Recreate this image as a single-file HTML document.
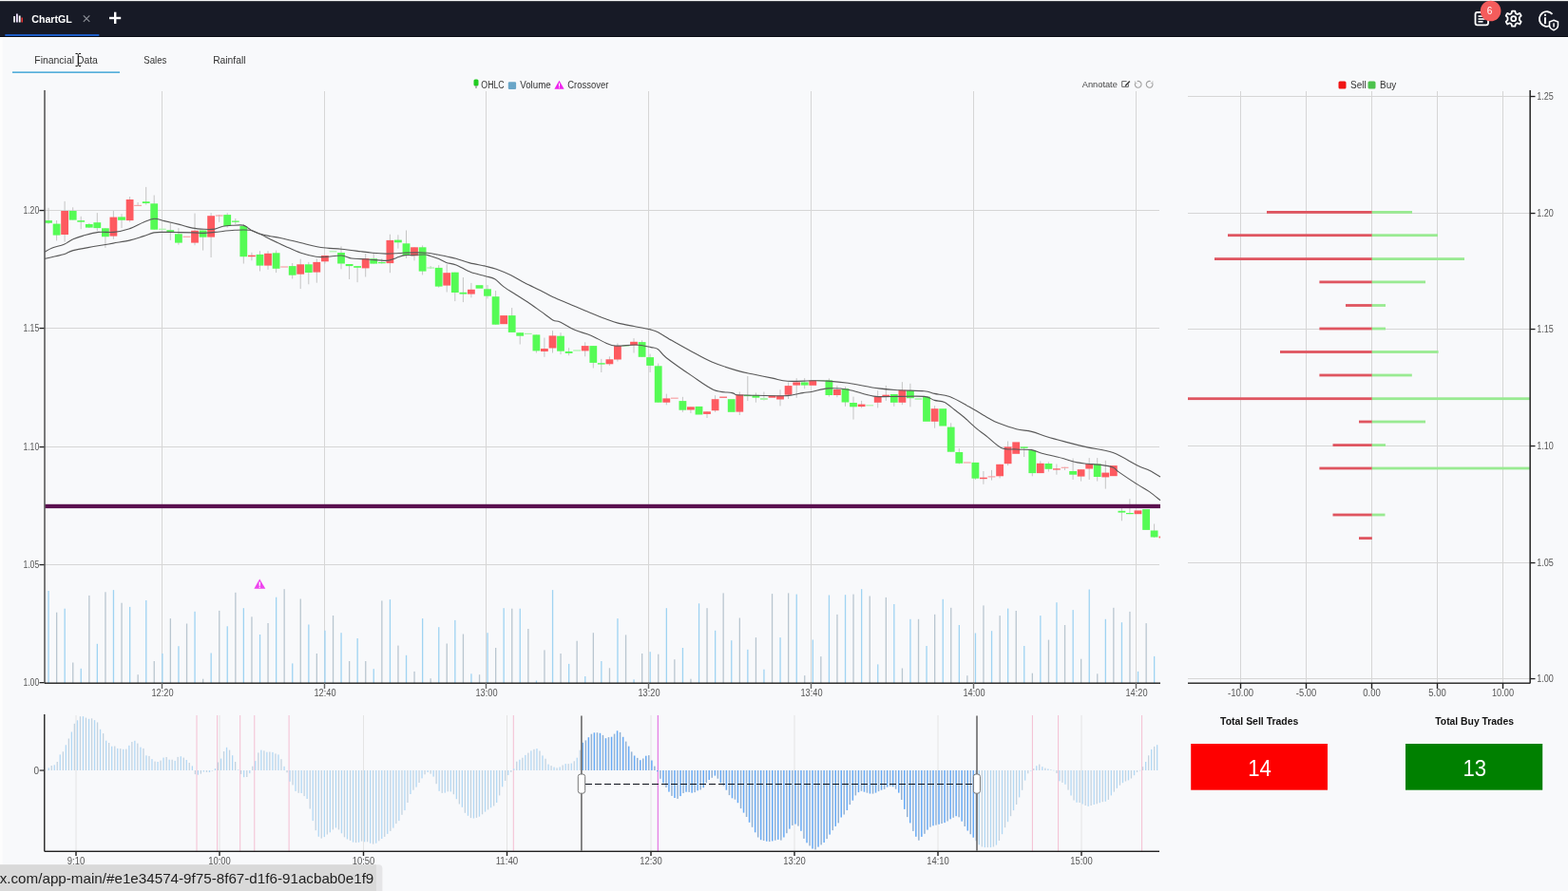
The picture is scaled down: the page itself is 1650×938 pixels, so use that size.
<!DOCTYPE html>
<html><head><meta charset="utf-8"><title>ChartGL</title>
<style>
*{box-sizing:border-box;margin:0;padding:0}
html,body{width:1650px;height:938px;overflow:hidden;background:#f8f9fb}
svg{position:absolute;left:0;top:0;display:block}
svg text{font-family:"Liberation Sans",Arial,sans-serif}
.ax{font-size:10px;fill:#555}
.lg{font-size:10px;fill:#333}
.an{font-size:9px;fill:#444}
.tt{font-size:11.5px;font-weight:bold;fill:#fff}
.tb{font-size:11px;fill:#333}
.tot{font-size:11px;font-weight:bold;fill:#111}
.big{font-size:23px;fill:#fff}
.st{font-size:15px;fill:#1e1e1e}
</style></head><body>
<svg width="1650" height="938" viewBox="0 0 1650 938">
<rect x="0" y="0" width="1650" height="1" fill="#f4f4f4"/>
<rect x="0" y="1" width="1650" height="1" fill="#3a3d44"/>
<rect x="0" y="2" width="1650" height="36" fill="#171a26"/>
<rect x="0" y="38" width="1650" height="1" fill="#0a0d16"/>
<rect x="0" y="39" width="1650" height="1" fill="#ffffff"/>
<rect x="0" y="40" width="1650" height="1" fill="#f4f8fb"/>
<rect x="0" y="41" width="2.7" height="870" fill="#fdfdfd"/>
<rect x="14.2" y="17" width="1.8" height="6.5" fill="#fff"/>
<rect x="17" y="14.5" width="1.8" height="9" fill="#f0e0ff"/>
<rect x="19.8" y="16.5" width="1.8" height="7" fill="#fff"/>
<rect x="22.4" y="18.5" width="1.6" height="5" fill="#e03030"/>
<text x="33.3" y="23.9" class="tt" textLength="42.4" lengthAdjust="spacingAndGlyphs">ChartGL</text>
<path d="M87.8 16.3 L94.3 22.8 M94.3 16.3 L87.8 22.8" stroke="#8a8e96" stroke-width="1.2"/>
<rect x="115" y="17.8" width="12.2" height="2.4" fill="#fff"/><rect x="120" y="12.7" width="2.4" height="12.3" fill="#fff"/>
<rect x="5.3" y="36" width="99" height="2" fill="#1d5cc4"/>
<rect x="1552.5" y="13" width="13.5" height="13.3" rx="2" fill="none" stroke="#fff" stroke-width="1.8"/>
<rect x="1555.5" y="16.3" width="6" height="1.6" fill="#fff"/><rect x="1555.5" y="19.2" width="7" height="1.6" fill="#fff"/><rect x="1555.5" y="22" width="5" height="1.6" fill="#fff"/>
<circle cx="1568.6" cy="11.5" r="10.8" fill="#f45c5c"/>
<text x="1567.6" y="15.3" fill="#fff" text-anchor="middle" style="font-size:10px">6</text>
<g transform="translate(1592.7,19.7)" fill="none" stroke="#fff" stroke-width="1.8"><path d="M-1.6,-8 L1.6,-8 L2.2,-5.6 L4.2,-4.6 L6.5,-5.8 L8,-3.2 L6.2,-1.4 L6.2,1.4 L8,3.2 L6.5,5.8 L4.2,4.6 L2.2,5.6 L1.6,8 L-1.6,8 L-2.2,5.6 L-4.2,4.6 L-6.5,5.8 L-8,3.2 L-6.2,1.4 L-6.2,-1.4 L-8,-3.2 L-6.5,-5.8 L-4.2,-4.6 L-2.2,-5.6 Z" stroke-linejoin="round"/><circle cx="0" cy="0" r="2.5"/></g>
<path d="M1631.5 26.8 A7.8 7.8 0 1 1 1633.5 14.8" fill="none" stroke="#fff" stroke-width="1.8"/>
<rect x="1625" y="18.3" width="2" height="6.8" fill="#fff"/><rect x="1625" y="14.8" width="2" height="2" fill="#fff"/>
<path d="M1635 21.3 l4.5 1.8 v3.5 c0 2.6 -2 4.3 -4.5 5.2 c-2.5 -0.9 -4.5 -2.6 -4.5 -5.2 v-3.5 z" fill="#171a26" stroke="#fff" stroke-width="1.5"/>
<rect x="1634.3" y="24.3" width="1.5" height="4.2" fill="#fff"/>
<text x="36.3" y="66.8" class="tb" textLength="66.6" lengthAdjust="spacingAndGlyphs">Financial Data</text>
<text x="151.3" y="66.8" class="tb" textLength="24" lengthAdjust="spacingAndGlyphs">Sales</text>
<text x="224.2" y="66.8" class="tb" textLength="34.3" lengthAdjust="spacingAndGlyphs">Rainfall</text>
<rect x="13" y="75.4" width="113" height="1.5" fill="#45a7d8"/>
<text x="1325.2" y="763.4" class="tot" textLength="82.2" lengthAdjust="spacingAndGlyphs" text-anchor="middle">Total Sell Trades</text>
<text x="1551.6" y="763.4" class="tot" textLength="82.6" lengthAdjust="spacingAndGlyphs" text-anchor="middle">Total Buy Trades</text>
<line x1="170.5" y1="96" x2="170.5" y2="719" stroke="#d6d6d6" stroke-width="1"/>
<line x1="341.5" y1="96" x2="341.5" y2="719" stroke="#d6d6d6" stroke-width="1"/>
<line x1="511.5" y1="96" x2="511.5" y2="719" stroke="#d6d6d6" stroke-width="1"/>
<line x1="682.5" y1="96" x2="682.5" y2="719" stroke="#d6d6d6" stroke-width="1"/>
<line x1="853.5" y1="96" x2="853.5" y2="719" stroke="#d6d6d6" stroke-width="1"/>
<line x1="1024.5" y1="96" x2="1024.5" y2="719" stroke="#d6d6d6" stroke-width="1"/>
<line x1="1195.5" y1="96" x2="1195.5" y2="719" stroke="#d6d6d6" stroke-width="1"/>
<line x1="47" y1="221.5" x2="1220" y2="221.5" stroke="#d6d6d6" stroke-width="1"/>
<line x1="47" y1="345.5" x2="1220" y2="345.5" stroke="#d6d6d6" stroke-width="1"/>
<line x1="47" y1="470.5" x2="1220" y2="470.5" stroke="#d6d6d6" stroke-width="1"/>
<line x1="47" y1="594.5" x2="1220" y2="594.5" stroke="#d6d6d6" stroke-width="1"/>
<rect x="50.4" y="622" width="1.3" height="97" fill="#9fd3f2"/>
<rect x="59" y="644.7" width="1.3" height="74.3" fill="#b9c6d0"/>
<rect x="67.5" y="640.7" width="1.3" height="78.3" fill="#9fd3f2"/>
<rect x="76.1" y="697.5" width="1.3" height="21.5" fill="#b9c6d0"/>
<rect x="84.6" y="703.8" width="1.3" height="15.2" fill="#9fd3f2"/>
<rect x="93.2" y="626.9" width="1.3" height="92.1" fill="#b9c6d0"/>
<rect x="101.7" y="677.8" width="1.3" height="41.2" fill="#9fd3f2"/>
<rect x="110.3" y="623.3" width="1.3" height="95.7" fill="#b9c6d0"/>
<rect x="118.8" y="621.1" width="1.3" height="97.9" fill="#9fd3f2"/>
<rect x="127.4" y="634.7" width="1.3" height="84.3" fill="#b9c6d0"/>
<rect x="136" y="638.9" width="1.3" height="80.1" fill="#9fd3f2"/>
<rect x="144.5" y="710.2" width="1.3" height="8.8" fill="#b9c6d0"/>
<rect x="153.1" y="632" width="1.3" height="87" fill="#9fd3f2"/>
<rect x="161.6" y="696" width="1.3" height="23" fill="#b9c6d0"/>
<rect x="170.2" y="688" width="1.3" height="31" fill="#9fd3f2"/>
<rect x="178.7" y="651.1" width="1.3" height="67.9" fill="#b9c6d0"/>
<rect x="187.3" y="680.2" width="1.3" height="38.8" fill="#9fd3f2"/>
<rect x="195.9" y="656.5" width="1.3" height="62.5" fill="#b9c6d0"/>
<rect x="204.4" y="643.8" width="1.3" height="75.2" fill="#9fd3f2"/>
<rect x="213" y="714.7" width="1.3" height="4.3" fill="#b9c6d0"/>
<rect x="221.5" y="687.5" width="1.3" height="31.5" fill="#9fd3f2"/>
<rect x="230.1" y="642.9" width="1.3" height="76.1" fill="#b9c6d0"/>
<rect x="238.6" y="659.3" width="1.3" height="59.7" fill="#9fd3f2"/>
<rect x="247.2" y="623.8" width="1.3" height="95.2" fill="#b9c6d0"/>
<rect x="255.7" y="640.2" width="1.3" height="78.8" fill="#9fd3f2"/>
<rect x="264.3" y="649.3" width="1.3" height="69.7" fill="#b9c6d0"/>
<rect x="272.9" y="668" width="1.3" height="51" fill="#9fd3f2"/>
<rect x="281.4" y="656" width="1.3" height="63" fill="#b9c6d0"/>
<rect x="290" y="628.7" width="1.3" height="90.3" fill="#9fd3f2"/>
<rect x="298.5" y="620.2" width="1.3" height="98.8" fill="#b9c6d0"/>
<rect x="307.1" y="698.4" width="1.3" height="20.6" fill="#9fd3f2"/>
<rect x="315.6" y="630.5" width="1.3" height="88.5" fill="#b9c6d0"/>
<rect x="324.2" y="657.5" width="1.3" height="61.5" fill="#9fd3f2"/>
<rect x="332.7" y="688" width="1.3" height="31" fill="#b9c6d0"/>
<rect x="341.3" y="663.8" width="1.3" height="55.2" fill="#9fd3f2"/>
<rect x="349.9" y="648" width="1.3" height="71" fill="#b9c6d0"/>
<rect x="358.4" y="666.2" width="1.3" height="52.8" fill="#9fd3f2"/>
<rect x="367" y="696" width="1.3" height="23" fill="#b9c6d0"/>
<rect x="375.5" y="672" width="1.3" height="47" fill="#9fd3f2"/>
<rect x="384.1" y="696" width="1.3" height="23" fill="#b9c6d0"/>
<rect x="392.6" y="704.2" width="1.3" height="14.8" fill="#9fd3f2"/>
<rect x="401.2" y="632.4" width="1.3" height="86.6" fill="#b9c6d0"/>
<rect x="409.8" y="631.1" width="1.3" height="87.9" fill="#9fd3f2"/>
<rect x="418.3" y="679.6" width="1.3" height="39.4" fill="#b9c6d0"/>
<rect x="426.9" y="689.8" width="1.3" height="29.2" fill="#9fd3f2"/>
<rect x="435.4" y="706.9" width="1.3" height="12.1" fill="#b9c6d0"/>
<rect x="444" y="651.1" width="1.3" height="67.9" fill="#9fd3f2"/>
<rect x="452.5" y="714.2" width="1.3" height="4.8" fill="#b9c6d0"/>
<rect x="461.1" y="660.2" width="1.3" height="58.8" fill="#9fd3f2"/>
<rect x="469.6" y="677.5" width="1.3" height="41.5" fill="#b9c6d0"/>
<rect x="478.2" y="652.9" width="1.3" height="66.1" fill="#9fd3f2"/>
<rect x="486.8" y="667.5" width="1.3" height="51.5" fill="#b9c6d0"/>
<rect x="495.3" y="709.3" width="1.3" height="9.7" fill="#9fd3f2"/>
<rect x="503.9" y="710.2" width="1.3" height="8.8" fill="#b9c6d0"/>
<rect x="512.4" y="666.2" width="1.3" height="52.8" fill="#9fd3f2"/>
<rect x="521" y="682" width="1.3" height="37" fill="#b9c6d0"/>
<rect x="529.5" y="640.2" width="1.3" height="78.8" fill="#9fd3f2"/>
<rect x="538.1" y="640.7" width="1.3" height="78.3" fill="#b9c6d0"/>
<rect x="546.6" y="640.7" width="1.3" height="78.3" fill="#9fd3f2"/>
<rect x="555.2" y="662" width="1.3" height="57" fill="#b9c6d0"/>
<rect x="563.8" y="716.5" width="1.3" height="2.5" fill="#9fd3f2"/>
<rect x="572.3" y="684.4" width="1.3" height="34.6" fill="#b9c6d0"/>
<rect x="580.9" y="621.1" width="1.3" height="97.9" fill="#9fd3f2"/>
<rect x="589.4" y="688" width="1.3" height="31" fill="#b9c6d0"/>
<rect x="598" y="698.9" width="1.3" height="20.1" fill="#9fd3f2"/>
<rect x="606.5" y="674.7" width="1.3" height="44.3" fill="#b9c6d0"/>
<rect x="615.1" y="712" width="1.3" height="7" fill="#9fd3f2"/>
<rect x="623.7" y="666.2" width="1.3" height="52.8" fill="#b9c6d0"/>
<rect x="632.2" y="696" width="1.3" height="23" fill="#9fd3f2"/>
<rect x="640.8" y="703.3" width="1.3" height="15.7" fill="#b9c6d0"/>
<rect x="649.3" y="651.1" width="1.3" height="67.9" fill="#9fd3f2"/>
<rect x="657.9" y="668.4" width="1.3" height="50.6" fill="#b9c6d0"/>
<rect x="666.4" y="715.3" width="1.3" height="3.7" fill="#9fd3f2"/>
<rect x="675" y="688" width="1.3" height="31" fill="#b9c6d0"/>
<rect x="683.5" y="686.2" width="1.3" height="32.8" fill="#9fd3f2"/>
<rect x="692.1" y="688.7" width="1.3" height="30.3" fill="#b9c6d0"/>
<rect x="700.7" y="640.2" width="1.3" height="78.8" fill="#9fd3f2"/>
<rect x="709.2" y="694.2" width="1.3" height="24.8" fill="#b9c6d0"/>
<rect x="717.8" y="682" width="1.3" height="37" fill="#9fd3f2"/>
<rect x="726.3" y="714.7" width="1.3" height="4.3" fill="#b9c6d0"/>
<rect x="734.9" y="635.3" width="1.3" height="83.7" fill="#9fd3f2"/>
<rect x="743.4" y="640.2" width="1.3" height="78.8" fill="#b9c6d0"/>
<rect x="752" y="663.8" width="1.3" height="55.2" fill="#9fd3f2"/>
<rect x="760.5" y="624.4" width="1.3" height="94.6" fill="#b9c6d0"/>
<rect x="769.1" y="674.2" width="1.3" height="44.8" fill="#9fd3f2"/>
<rect x="777.7" y="650.5" width="1.3" height="68.5" fill="#b9c6d0"/>
<rect x="786.2" y="683.8" width="1.3" height="35.2" fill="#9fd3f2"/>
<rect x="794.8" y="671.1" width="1.3" height="47.9" fill="#b9c6d0"/>
<rect x="803.3" y="704.7" width="1.3" height="14.3" fill="#9fd3f2"/>
<rect x="811.9" y="625.1" width="1.3" height="93.9" fill="#b9c6d0"/>
<rect x="820.4" y="671.1" width="1.3" height="47.9" fill="#9fd3f2"/>
<rect x="829" y="624.4" width="1.3" height="94.6" fill="#b9c6d0"/>
<rect x="837.6" y="625.6" width="1.3" height="93.4" fill="#9fd3f2"/>
<rect x="846.1" y="711.1" width="1.3" height="7.9" fill="#b9c6d0"/>
<rect x="854.7" y="673.5" width="1.3" height="45.5" fill="#9fd3f2"/>
<rect x="863.2" y="691.1" width="1.3" height="27.9" fill="#b9c6d0"/>
<rect x="871.8" y="626.5" width="1.3" height="92.5" fill="#9fd3f2"/>
<rect x="880.3" y="646.9" width="1.3" height="72.1" fill="#b9c6d0"/>
<rect x="888.9" y="626.2" width="1.3" height="92.8" fill="#9fd3f2"/>
<rect x="897.4" y="625.6" width="1.3" height="93.4" fill="#b9c6d0"/>
<rect x="906" y="620.2" width="1.3" height="98.8" fill="#9fd3f2"/>
<rect x="914.6" y="627.5" width="1.3" height="91.5" fill="#b9c6d0"/>
<rect x="923.1" y="699.4" width="1.3" height="19.6" fill="#9fd3f2"/>
<rect x="931.7" y="628.9" width="1.3" height="90.1" fill="#b9c6d0"/>
<rect x="940.2" y="636" width="1.3" height="83" fill="#9fd3f2"/>
<rect x="948.8" y="703.5" width="1.3" height="15.5" fill="#b9c6d0"/>
<rect x="957.3" y="651.8" width="1.3" height="67.2" fill="#9fd3f2"/>
<rect x="965.9" y="651.8" width="1.3" height="67.2" fill="#b9c6d0"/>
<rect x="974.4" y="680" width="1.3" height="39" fill="#9fd3f2"/>
<rect x="983" y="646.8" width="1.3" height="72.2" fill="#b9c6d0"/>
<rect x="991.6" y="630.8" width="1.3" height="88.2" fill="#9fd3f2"/>
<rect x="1000.1" y="639.8" width="1.3" height="79.2" fill="#b9c6d0"/>
<rect x="1008.7" y="658" width="1.3" height="61" fill="#9fd3f2"/>
<rect x="1017.2" y="711.2" width="1.3" height="7.8" fill="#b9c6d0"/>
<rect x="1025.8" y="666.5" width="1.3" height="52.5" fill="#9fd3f2"/>
<rect x="1034.3" y="637.4" width="1.3" height="81.6" fill="#b9c6d0"/>
<rect x="1042.9" y="664.2" width="1.3" height="54.8" fill="#9fd3f2"/>
<rect x="1051.5" y="648.1" width="1.3" height="70.9" fill="#b9c6d0"/>
<rect x="1060" y="640.6" width="1.3" height="78.4" fill="#9fd3f2"/>
<rect x="1068.6" y="643" width="1.3" height="76" fill="#b9c6d0"/>
<rect x="1077.1" y="680" width="1.3" height="39" fill="#9fd3f2"/>
<rect x="1085.7" y="708.7" width="1.3" height="10.3" fill="#b9c6d0"/>
<rect x="1094.2" y="648.1" width="1.3" height="70.9" fill="#9fd3f2"/>
<rect x="1102.8" y="673.6" width="1.3" height="45.4" fill="#b9c6d0"/>
<rect x="1111.3" y="634.2" width="1.3" height="84.8" fill="#9fd3f2"/>
<rect x="1119.9" y="658" width="1.3" height="61" fill="#b9c6d0"/>
<rect x="1128.5" y="642.1" width="1.3" height="76.9" fill="#9fd3f2"/>
<rect x="1137" y="693.7" width="1.3" height="25.3" fill="#b9c6d0"/>
<rect x="1145.6" y="620.5" width="1.3" height="98.5" fill="#9fd3f2"/>
<rect x="1154.1" y="709.3" width="1.3" height="9.7" fill="#b9c6d0"/>
<rect x="1162.7" y="651.8" width="1.3" height="67.2" fill="#9fd3f2"/>
<rect x="1171.2" y="639.8" width="1.3" height="79.2" fill="#b9c6d0"/>
<rect x="1179.8" y="655.2" width="1.3" height="63.8" fill="#9fd3f2"/>
<rect x="1188.3" y="643.9" width="1.3" height="75.1" fill="#b9c6d0"/>
<rect x="1196.9" y="706.9" width="1.3" height="12.1" fill="#9fd3f2"/>
<rect x="1205.5" y="656.1" width="1.3" height="62.9" fill="#b9c6d0"/>
<rect x="1214" y="690.9" width="1.3" height="28.1" fill="#9fd3f2"/>
<path d="M273.2 609.6 L279.3 619.8 L267.4 619.8 Z" fill="#ee44ee"/>
<rect x="272.6" y="612.6" width="1.3" height="4.2" fill="#fff"/><rect x="272.6" y="617.6" width="1.3" height="1.2" fill="#fff"/>
<line x1="51" y1="218.8" x2="51" y2="235.8" stroke="#c4c4c4" stroke-width="1"/>
<line x1="59.6" y1="232" x2="59.6" y2="253.4" stroke="#c4c4c4" stroke-width="1"/>
<line x1="68.1" y1="211.9" x2="68.1" y2="254.5" stroke="#c4c4c4" stroke-width="1"/>
<line x1="76.7" y1="218.3" x2="76.7" y2="231.6" stroke="#c4c4c4" stroke-width="1"/>
<line x1="85.2" y1="227.8" x2="85.2" y2="241.2" stroke="#c4c4c4" stroke-width="1"/>
<line x1="93.8" y1="235" x2="93.8" y2="240" stroke="#c4c4c4" stroke-width="1"/>
<line x1="102.3" y1="224.1" x2="102.3" y2="243.3" stroke="#c4c4c4" stroke-width="1"/>
<line x1="110.9" y1="240.3" x2="110.9" y2="260.9" stroke="#c4c4c4" stroke-width="1"/>
<line x1="119.4" y1="222" x2="119.4" y2="251.8" stroke="#c4c4c4" stroke-width="1"/>
<line x1="128" y1="225.2" x2="128" y2="240.1" stroke="#c4c4c4" stroke-width="1"/>
<line x1="136.6" y1="207" x2="136.6" y2="233.7" stroke="#c4c4c4" stroke-width="1"/>
<line x1="145.1" y1="213" x2="145.1" y2="216.8" stroke="#c4c4c4" stroke-width="1"/>
<line x1="153.7" y1="196.9" x2="153.7" y2="215.6" stroke="#c4c4c4" stroke-width="1"/>
<line x1="162.2" y1="205.5" x2="162.2" y2="241.7" stroke="#c4c4c4" stroke-width="1"/>
<line x1="179.3" y1="234.8" x2="179.3" y2="252.9" stroke="#c4c4c4" stroke-width="1"/>
<line x1="187.9" y1="240.1" x2="187.9" y2="257.7" stroke="#c4c4c4" stroke-width="1"/>
<line x1="205" y1="224.6" x2="205" y2="258.2" stroke="#c4c4c4" stroke-width="1"/>
<line x1="213.6" y1="242.5" x2="213.6" y2="263.6" stroke="#c4c4c4" stroke-width="1"/>
<line x1="222.1" y1="224.2" x2="222.1" y2="271" stroke="#c4c4c4" stroke-width="1"/>
<line x1="230.7" y1="226" x2="230.7" y2="233.8" stroke="#c4c4c4" stroke-width="1"/>
<line x1="239.2" y1="224.2" x2="239.2" y2="239.6" stroke="#c4c4c4" stroke-width="1"/>
<line x1="247.8" y1="230" x2="247.8" y2="236" stroke="#c4c4c4" stroke-width="1"/>
<line x1="256.3" y1="235.9" x2="256.3" y2="277.5" stroke="#c4c4c4" stroke-width="1"/>
<line x1="264.9" y1="265.8" x2="264.9" y2="274.3" stroke="#c4c4c4" stroke-width="1"/>
<line x1="273.5" y1="264.2" x2="273.5" y2="285.5" stroke="#c4c4c4" stroke-width="1"/>
<line x1="282" y1="264.2" x2="282" y2="283.9" stroke="#c4c4c4" stroke-width="1"/>
<line x1="290.6" y1="263.6" x2="290.6" y2="287.1" stroke="#c4c4c4" stroke-width="1"/>
<line x1="307.7" y1="277" x2="307.7" y2="293.5" stroke="#c4c4c4" stroke-width="1"/>
<line x1="316.2" y1="272.7" x2="316.2" y2="304.1" stroke="#c4c4c4" stroke-width="1"/>
<line x1="324.8" y1="275.9" x2="324.8" y2="299.3" stroke="#c4c4c4" stroke-width="1"/>
<line x1="333.3" y1="272.2" x2="333.3" y2="297.7" stroke="#c4c4c4" stroke-width="1"/>
<line x1="341.9" y1="269" x2="341.9" y2="277.5" stroke="#c4c4c4" stroke-width="1"/>
<line x1="359" y1="259.4" x2="359" y2="283.3" stroke="#c4c4c4" stroke-width="1"/>
<line x1="367.6" y1="278" x2="367.6" y2="294" stroke="#c4c4c4" stroke-width="1"/>
<line x1="376.1" y1="280.1" x2="376.1" y2="297.2" stroke="#c4c4c4" stroke-width="1"/>
<line x1="384.7" y1="267" x2="384.7" y2="291.5" stroke="#c4c4c4" stroke-width="1"/>
<line x1="393.2" y1="265.9" x2="393.2" y2="277.6" stroke="#c4c4c4" stroke-width="1"/>
<line x1="401.8" y1="272.3" x2="401.8" y2="277.6" stroke="#c4c4c4" stroke-width="1"/>
<line x1="410.4" y1="246.7" x2="410.4" y2="287.2" stroke="#c4c4c4" stroke-width="1"/>
<line x1="418.9" y1="247.3" x2="418.9" y2="261.6" stroke="#c4c4c4" stroke-width="1"/>
<line x1="427.5" y1="242.5" x2="427.5" y2="271.8" stroke="#c4c4c4" stroke-width="1"/>
<line x1="436" y1="260.3" x2="436" y2="274.4" stroke="#c4c4c4" stroke-width="1"/>
<line x1="444.6" y1="258.4" x2="444.6" y2="289.4" stroke="#c4c4c4" stroke-width="1"/>
<line x1="453.1" y1="280" x2="453.1" y2="283" stroke="#c4c4c4" stroke-width="1"/>
<line x1="461.7" y1="279.2" x2="461.7" y2="302.7" stroke="#c4c4c4" stroke-width="1"/>
<line x1="470.2" y1="278.2" x2="470.2" y2="307.5" stroke="#c4c4c4" stroke-width="1"/>
<line x1="478.8" y1="286.7" x2="478.8" y2="317.1" stroke="#c4c4c4" stroke-width="1"/>
<line x1="487.4" y1="292" x2="487.4" y2="318.1" stroke="#c4c4c4" stroke-width="1"/>
<line x1="495.9" y1="297.9" x2="495.9" y2="313.3" stroke="#c4c4c4" stroke-width="1"/>
<line x1="513" y1="300" x2="513" y2="314.4" stroke="#c4c4c4" stroke-width="1"/>
<line x1="521.6" y1="306" x2="521.6" y2="341.7" stroke="#c4c4c4" stroke-width="1"/>
<line x1="538.7" y1="324.1" x2="538.7" y2="349.9" stroke="#c4c4c4" stroke-width="1"/>
<line x1="547.2" y1="350.2" x2="547.2" y2="362.5" stroke="#c4c4c4" stroke-width="1"/>
<line x1="564.4" y1="352.4" x2="564.4" y2="371.5" stroke="#c4c4c4" stroke-width="1"/>
<line x1="572.9" y1="355.5" x2="572.9" y2="375.8" stroke="#c4c4c4" stroke-width="1"/>
<line x1="581.5" y1="348.1" x2="581.5" y2="371.5" stroke="#c4c4c4" stroke-width="1"/>
<line x1="590" y1="350.2" x2="590" y2="373.1" stroke="#c4c4c4" stroke-width="1"/>
<line x1="598.6" y1="366.2" x2="598.6" y2="374.2" stroke="#c4c4c4" stroke-width="1"/>
<line x1="615.7" y1="360.3" x2="615.7" y2="375.3" stroke="#c4c4c4" stroke-width="1"/>
<line x1="624.3" y1="364.1" x2="624.3" y2="387.5" stroke="#c4c4c4" stroke-width="1"/>
<line x1="632.8" y1="377.9" x2="632.8" y2="392" stroke="#c4c4c4" stroke-width="1"/>
<line x1="641.4" y1="375.3" x2="641.4" y2="384.9" stroke="#c4c4c4" stroke-width="1"/>
<line x1="649.9" y1="361.4" x2="649.9" y2="380.6" stroke="#c4c4c4" stroke-width="1"/>
<line x1="667" y1="356.1" x2="667" y2="371.5" stroke="#c4c4c4" stroke-width="1"/>
<line x1="675.6" y1="358.2" x2="675.6" y2="375.8" stroke="#c4c4c4" stroke-width="1"/>
<line x1="684.1" y1="372.6" x2="684.1" y2="392" stroke="#c4c4c4" stroke-width="1"/>
<line x1="692.7" y1="382.6" x2="692.7" y2="423.7" stroke="#c4c4c4" stroke-width="1"/>
<line x1="701.3" y1="414.6" x2="701.3" y2="426.3" stroke="#c4c4c4" stroke-width="1"/>
<line x1="718.4" y1="417.8" x2="718.4" y2="433.8" stroke="#c4c4c4" stroke-width="1"/>
<line x1="726.9" y1="428.3" x2="726.9" y2="434.9" stroke="#c4c4c4" stroke-width="1"/>
<line x1="744" y1="433.3" x2="744" y2="440" stroke="#c4c4c4" stroke-width="1"/>
<line x1="752.6" y1="416.2" x2="752.6" y2="433.8" stroke="#c4c4c4" stroke-width="1"/>
<line x1="778.3" y1="412.5" x2="778.3" y2="437" stroke="#c4c4c4" stroke-width="1"/>
<line x1="786.8" y1="396" x2="786.8" y2="422.1" stroke="#c4c4c4" stroke-width="1"/>
<line x1="795.4" y1="413.5" x2="795.4" y2="423.7" stroke="#c4c4c4" stroke-width="1"/>
<line x1="803.9" y1="412.5" x2="803.9" y2="421.5" stroke="#c4c4c4" stroke-width="1"/>
<line x1="821" y1="410.3" x2="821" y2="427.4" stroke="#c4c4c4" stroke-width="1"/>
<line x1="829.6" y1="402.4" x2="829.6" y2="420" stroke="#c4c4c4" stroke-width="1"/>
<line x1="838.2" y1="398.1" x2="838.2" y2="418.9" stroke="#c4c4c4" stroke-width="1"/>
<line x1="846.7" y1="398.1" x2="846.7" y2="409.3" stroke="#c4c4c4" stroke-width="1"/>
<line x1="872.4" y1="398.4" x2="872.4" y2="417.6" stroke="#c4c4c4" stroke-width="1"/>
<line x1="880.9" y1="405.9" x2="880.9" y2="418.2" stroke="#c4c4c4" stroke-width="1"/>
<line x1="889.5" y1="407" x2="889.5" y2="427.8" stroke="#c4c4c4" stroke-width="1"/>
<line x1="898" y1="417.6" x2="898" y2="441.6" stroke="#c4c4c4" stroke-width="1"/>
<line x1="906.6" y1="421.9" x2="906.6" y2="429.4" stroke="#c4c4c4" stroke-width="1"/>
<line x1="923.7" y1="411.2" x2="923.7" y2="429.4" stroke="#c4c4c4" stroke-width="1"/>
<line x1="932.3" y1="405.9" x2="932.3" y2="421.9" stroke="#c4c4c4" stroke-width="1"/>
<line x1="940.8" y1="415" x2="940.8" y2="427.8" stroke="#c4c4c4" stroke-width="1"/>
<line x1="949.4" y1="402.2" x2="949.4" y2="426.2" stroke="#c4c4c4" stroke-width="1"/>
<line x1="957.9" y1="403.8" x2="957.9" y2="428.3" stroke="#c4c4c4" stroke-width="1"/>
<line x1="983.6" y1="427.2" x2="983.6" y2="450.7" stroke="#c4c4c4" stroke-width="1"/>
<line x1="1000.7" y1="445.3" x2="1000.7" y2="475.7" stroke="#c4c4c4" stroke-width="1"/>
<line x1="1009.3" y1="472" x2="1009.3" y2="488.5" stroke="#c4c4c4" stroke-width="1"/>
<line x1="1026.4" y1="486.9" x2="1026.4" y2="505" stroke="#c4c4c4" stroke-width="1"/>
<line x1="1034.9" y1="496" x2="1034.9" y2="509.8" stroke="#c4c4c4" stroke-width="1"/>
<line x1="1043.5" y1="494.9" x2="1043.5" y2="505.6" stroke="#c4c4c4" stroke-width="1"/>
<line x1="1052.1" y1="488.8" x2="1052.1" y2="503.4" stroke="#c4c4c4" stroke-width="1"/>
<line x1="1060.6" y1="464.5" x2="1060.6" y2="490.1" stroke="#c4c4c4" stroke-width="1"/>
<line x1="1077.7" y1="470.4" x2="1077.7" y2="481" stroke="#c4c4c4" stroke-width="1"/>
<line x1="1086.3" y1="474.1" x2="1086.3" y2="501.3" stroke="#c4c4c4" stroke-width="1"/>
<line x1="1094.8" y1="485.3" x2="1094.8" y2="498.1" stroke="#c4c4c4" stroke-width="1"/>
<line x1="1103.4" y1="486.4" x2="1103.4" y2="496.5" stroke="#c4c4c4" stroke-width="1"/>
<line x1="1111.9" y1="488.5" x2="1111.9" y2="499.7" stroke="#c4c4c4" stroke-width="1"/>
<line x1="1120.5" y1="491.7" x2="1120.5" y2="495" stroke="#c4c4c4" stroke-width="1"/>
<line x1="1129.1" y1="482.6" x2="1129.1" y2="505" stroke="#c4c4c4" stroke-width="1"/>
<line x1="1137.6" y1="494.2" x2="1137.6" y2="506.6" stroke="#c4c4c4" stroke-width="1"/>
<line x1="1146.2" y1="482.1" x2="1146.2" y2="505" stroke="#c4c4c4" stroke-width="1"/>
<line x1="1154.7" y1="482.1" x2="1154.7" y2="506.6" stroke="#c4c4c4" stroke-width="1"/>
<line x1="1163.3" y1="484.8" x2="1163.3" y2="514.6" stroke="#c4c4c4" stroke-width="1"/>
<line x1="1180.4" y1="534.2" x2="1180.4" y2="548.3" stroke="#c4c4c4" stroke-width="1"/>
<line x1="1188.9" y1="525.2" x2="1188.9" y2="541.2" stroke="#c4c4c4" stroke-width="1"/>
<line x1="1214.6" y1="551.5" x2="1214.6" y2="566" stroke="#c4c4c4" stroke-width="1"/>
<rect x="47.1" y="232.1" width="7.8" height="2.7" fill="#55fb55"/>
<rect x="55.7" y="235.6" width="7.8" height="12" fill="#55fb55"/>
<rect x="64.2" y="222" width="7.8" height="25" fill="#fe5a60"/>
<rect x="72.8" y="222" width="7.8" height="9.6" fill="#55fb55"/>
<rect x="81.3" y="232.1" width="7.8" height="1.6" fill="#55fb55"/>
<rect x="89.9" y="236" width="7.8" height="3.6" fill="#55fb55"/>
<rect x="98.4" y="234.2" width="7.8" height="5.9" fill="#55fb55"/>
<rect x="107" y="240.3" width="7.8" height="8.9" fill="#55fb55"/>
<rect x="115.5" y="228.6" width="7.8" height="20" fill="#fe5a60"/>
<rect x="124.1" y="228.4" width="7.8" height="3.4" fill="#55fb55"/>
<rect x="132.7" y="210" width="7.8" height="22.1" fill="#fe5a60"/>
<rect x="141.2" y="215.8" width="7.8" height="1.2" fill="#f7a3a6"/>
<rect x="149.8" y="212.2" width="7.8" height="1.8" fill="#55fb55"/>
<rect x="158.3" y="214.3" width="7.8" height="27.4" fill="#55fb55"/>
<rect x="166.9" y="240.7" width="7.8" height="1.2" fill="#a8f5a8"/>
<rect x="175.4" y="242.2" width="7.8" height="2.7" fill="#55fb55"/>
<rect x="184" y="246.3" width="7.8" height="9.3" fill="#55fb55"/>
<rect x="192.6" y="248.7" width="7.8" height="1.2" fill="#f7a3a6"/>
<rect x="201.1" y="242.8" width="7.8" height="12.8" fill="#fe5a60"/>
<rect x="209.7" y="242.5" width="7.8" height="7.2" fill="#55fb55"/>
<rect x="218.2" y="227.2" width="7.8" height="22.4" fill="#fe5a60"/>
<rect x="226.8" y="226.4" width="7.8" height="1.2" fill="#f7a3a6"/>
<rect x="235.3" y="226.1" width="7.8" height="11.9" fill="#55fb55"/>
<rect x="243.9" y="232.5" width="7.8" height="1.3" fill="#55fb55"/>
<rect x="252.4" y="238" width="7.8" height="32.2" fill="#55fb55"/>
<rect x="261" y="268.7" width="7.8" height="1.5" fill="#fe5a60"/>
<rect x="269.6" y="267.9" width="7.8" height="11.7" fill="#55fb55"/>
<rect x="278.1" y="266.8" width="7.8" height="12.8" fill="#fe5a60"/>
<rect x="286.7" y="266.3" width="7.8" height="16.5" fill="#55fb55"/>
<rect x="295.2" y="280.4" width="7.8" height="1.2" fill="#f7a3a6"/>
<rect x="303.8" y="280.1" width="7.8" height="9.6" fill="#55fb55"/>
<rect x="312.3" y="278.3" width="7.8" height="10.4" fill="#fe5a60"/>
<rect x="320.9" y="278.3" width="7.8" height="8.7" fill="#55fb55"/>
<rect x="329.4" y="275.9" width="7.8" height="10.7" fill="#fe5a60"/>
<rect x="338" y="269" width="7.8" height="6.3" fill="#fe5a60"/>
<rect x="346.6" y="264.2" width="7.8" height="1.2" fill="#a8f5a8"/>
<rect x="355.1" y="266" width="7.8" height="11.5" fill="#55fb55"/>
<rect x="363.7" y="278" width="7.8" height="2.1" fill="#55fb55"/>
<rect x="372.2" y="280.1" width="7.8" height="1.7" fill="#55fb55"/>
<rect x="380.8" y="272.1" width="7.8" height="10.3" fill="#fe5a60"/>
<rect x="389.3" y="272.3" width="7.8" height="5.3" fill="#55fb55"/>
<rect x="397.9" y="276" width="7.8" height="1.2" fill="#55fb55"/>
<rect x="406.5" y="252.9" width="7.8" height="24.2" fill="#fe5a60"/>
<rect x="415" y="252.6" width="7.8" height="2.7" fill="#55fb55"/>
<rect x="423.6" y="256.3" width="7.8" height="12.8" fill="#55fb55"/>
<rect x="432.1" y="260.3" width="7.8" height="9" fill="#fe5a60"/>
<rect x="440.7" y="260.3" width="7.8" height="25.3" fill="#55fb55"/>
<rect x="449.2" y="281.4" width="7.8" height="1.2" fill="#a8f5a8"/>
<rect x="457.8" y="281.9" width="7.8" height="19.7" fill="#55fb55"/>
<rect x="466.3" y="287.2" width="7.8" height="13.4" fill="#fe5a60"/>
<rect x="474.9" y="286.7" width="7.8" height="21.3" fill="#55fb55"/>
<rect x="483.5" y="307.8" width="7.8" height="1.8" fill="#55fb55"/>
<rect x="492" y="304.8" width="7.8" height="4.8" fill="#fe5a60"/>
<rect x="500.6" y="300.2" width="7.8" height="3.5" fill="#55fb55"/>
<rect x="509.1" y="304.3" width="7.8" height="7.4" fill="#55fb55"/>
<rect x="517.7" y="312.2" width="7.8" height="29.5" fill="#55fb55"/>
<rect x="526.2" y="332.1" width="7.8" height="9.1" fill="#fe5a60"/>
<rect x="534.8" y="332.1" width="7.8" height="17.8" fill="#55fb55"/>
<rect x="543.3" y="350.2" width="7.8" height="3.5" fill="#55fb55"/>
<rect x="551.9" y="350.8" width="7.8" height="1.2" fill="#a8f5a8"/>
<rect x="560.5" y="352.4" width="7.8" height="17" fill="#55fb55"/>
<rect x="569" y="367" width="7.8" height="3" fill="#fe5a60"/>
<rect x="577.6" y="353.4" width="7.8" height="13.1" fill="#fe5a60"/>
<rect x="586.1" y="353.7" width="7.8" height="16" fill="#55fb55"/>
<rect x="594.7" y="370" width="7.8" height="1.9" fill="#55fb55"/>
<rect x="603.2" y="368.4" width="7.8" height="1.2" fill="#a8f5a8"/>
<rect x="611.8" y="364.1" width="7.8" height="5.3" fill="#fe5a60"/>
<rect x="620.4" y="364.1" width="7.8" height="17.8" fill="#55fb55"/>
<rect x="628.9" y="382.2" width="7.8" height="1.4" fill="#55fb55"/>
<rect x="637.5" y="378.3" width="7.8" height="5" fill="#fe5a60"/>
<rect x="646" y="364.1" width="7.8" height="14.4" fill="#fe5a60"/>
<rect x="654.6" y="363.5" width="7.8" height="1.2" fill="#a8f5a8"/>
<rect x="663.1" y="359.8" width="7.8" height="3.7" fill="#fe5a60"/>
<rect x="671.7" y="360.1" width="7.8" height="15.7" fill="#55fb55"/>
<rect x="680.2" y="376.1" width="7.8" height="8.8" fill="#55fb55"/>
<rect x="688.8" y="385.3" width="7.8" height="38.4" fill="#55fb55"/>
<rect x="697.4" y="419.4" width="7.8" height="4.3" fill="#fe5a60"/>
<rect x="705.9" y="418.6" width="7.8" height="1.2" fill="#f7a3a6"/>
<rect x="714.5" y="422.1" width="7.8" height="9.6" fill="#55fb55"/>
<rect x="723" y="428.3" width="7.8" height="3.2" fill="#fe5a60"/>
<rect x="731.6" y="427.9" width="7.8" height="8.6" fill="#55fb55"/>
<rect x="740.1" y="433.3" width="7.8" height="2.6" fill="#fe5a60"/>
<rect x="748.7" y="420.2" width="7.8" height="12" fill="#fe5a60"/>
<rect x="757.2" y="417.6" width="7.8" height="1.2" fill="#fe5a60"/>
<rect x="765.8" y="420.2" width="7.8" height="13.6" fill="#55fb55"/>
<rect x="774.4" y="415.5" width="7.8" height="18.1" fill="#fe5a60"/>
<rect x="782.9" y="415.9" width="7.8" height="1.2" fill="#55fb55"/>
<rect x="791.5" y="415.9" width="7.8" height="2.8" fill="#55fb55"/>
<rect x="800" y="418.9" width="7.8" height="2.1" fill="#a8f5a8"/>
<rect x="808.6" y="416.5" width="7.8" height="2.2" fill="#fe5a60"/>
<rect x="817.1" y="416.5" width="7.8" height="4" fill="#fe5a60"/>
<rect x="825.7" y="406.1" width="7.8" height="9.6" fill="#fe5a60"/>
<rect x="834.3" y="402.4" width="7.8" height="3.2" fill="#fe5a60"/>
<rect x="842.8" y="402.4" width="7.8" height="3.2" fill="#55fb55"/>
<rect x="851.4" y="400.5" width="7.8" height="5.3" fill="#fe5a60"/>
<rect x="859.9" y="400" width="7.8" height="1.2" fill="#a8f5a8"/>
<rect x="868.5" y="400.4" width="7.8" height="15.6" fill="#55fb55"/>
<rect x="877" y="410" width="7.8" height="6" fill="#fe5a60"/>
<rect x="885.6" y="409.1" width="7.8" height="14.4" fill="#55fb55"/>
<rect x="894.1" y="424" width="7.8" height="4.3" fill="#55fb55"/>
<rect x="902.7" y="425.6" width="7.8" height="2.5" fill="#fe5a60"/>
<rect x="911.3" y="426.2" width="7.8" height="1.2" fill="#a8f5a8"/>
<rect x="919.8" y="417.4" width="7.8" height="6.4" fill="#fe5a60"/>
<rect x="928.4" y="415.7" width="7.8" height="1.7" fill="#fe5a60"/>
<rect x="936.9" y="415" width="7.8" height="8.8" fill="#55fb55"/>
<rect x="945.5" y="410.7" width="7.8" height="13.1" fill="#fe5a60"/>
<rect x="954" y="411" width="7.8" height="8.2" fill="#55fb55"/>
<rect x="962.6" y="419.2" width="7.8" height="1.6" fill="#a8f5a8"/>
<rect x="971.1" y="417.6" width="7.8" height="26.2" fill="#55fb55"/>
<rect x="979.7" y="430.2" width="7.8" height="13.6" fill="#fe5a60"/>
<rect x="988.3" y="430.2" width="7.8" height="18.3" fill="#55fb55"/>
<rect x="996.8" y="449.6" width="7.8" height="26.1" fill="#55fb55"/>
<rect x="1005.4" y="476" width="7.8" height="11.8" fill="#55fb55"/>
<rect x="1013.9" y="486.4" width="7.8" height="1.2" fill="#f7a3a6"/>
<rect x="1022.5" y="486.9" width="7.8" height="16.8" fill="#55fb55"/>
<rect x="1031" y="502.7" width="7.8" height="1.5" fill="#fe5a60"/>
<rect x="1039.6" y="501.3" width="7.8" height="1.2" fill="#f7a3a6"/>
<rect x="1048.2" y="488.8" width="7.8" height="12.5" fill="#fe5a60"/>
<rect x="1056.7" y="470.4" width="7.8" height="17.8" fill="#fe5a60"/>
<rect x="1065.3" y="465.4" width="7.8" height="12.4" fill="#fe5a60"/>
<rect x="1073.8" y="470.4" width="7.8" height="1.4" fill="#55fb55"/>
<rect x="1082.4" y="474.1" width="7.8" height="24" fill="#55fb55"/>
<rect x="1090.9" y="487.8" width="7.8" height="10.3" fill="#fe5a60"/>
<rect x="1099.5" y="488" width="7.8" height="5.8" fill="#55fb55"/>
<rect x="1108" y="493.3" width="7.8" height="1.3" fill="#fe5a60"/>
<rect x="1116.6" y="491.7" width="7.8" height="1.2" fill="#f7a3a6"/>
<rect x="1125.2" y="496" width="7.8" height="3.7" fill="#55fb55"/>
<rect x="1133.7" y="494.2" width="7.8" height="7.4" fill="#fe5a60"/>
<rect x="1142.3" y="488.2" width="7.8" height="5.3" fill="#fe5a60"/>
<rect x="1150.8" y="488.5" width="7.8" height="13.5" fill="#55fb55"/>
<rect x="1159.4" y="497.6" width="7.8" height="4.8" fill="#fe5a60"/>
<rect x="1167.9" y="490.1" width="7.8" height="11.1" fill="#fe5a60"/>
<rect x="1176.5" y="537.8" width="7.8" height="1.8" fill="#55fb55"/>
<rect x="1185" y="540" width="7.8" height="1.2" fill="#55fb55"/>
<rect x="1193.6" y="537.4" width="7.8" height="3.8" fill="#fe5a60"/>
<rect x="1202.2" y="536.1" width="7.8" height="21.8" fill="#55fb55"/>
<rect x="1210.7" y="558.5" width="7.8" height="7" fill="#55fb55"/>
<rect x="1219.6" y="564.6" width="1.4" height="1.8" fill="#fe5a60"/>
<rect x="47" y="530.8" width="1174" height="4.3" fill="#5b1150"/>
<path fill="none" stroke="#585858" stroke-width="1.1" stroke-linejoin="round" d="M47 272.4 C50.3 271.6 62 269.3 67 267.8 C72 266.3 71.5 265 77 263.6 C82.5 262.2 93 260.6 100 259.3 C107 258.1 112.8 257.2 119 256.1 C125.2 255 131.7 254.2 137 252.9 C142.3 251.7 146.8 249.9 151 248.6 C155.2 247.3 158.3 245.6 162 244.9 C165.7 244.2 168.5 244.5 173 244.4 C177.5 244.3 184 244.5 189 244.6 C194 244.7 198.7 244.8 203 244.9 C207.3 245 211.2 245.5 215 245.4 C218.8 245.3 220.7 244.9 226 244.4 C231.3 243.9 240.8 242.7 247 242.3 C253.2 242 258.5 241.6 263 242.3 C267.5 243 270.4 245.2 274 246.3 C277.6 247.4 281.1 248 284.6 248.7 C288.1 249.4 289.8 249.4 295 250.5 C300.2 251.6 308.9 253.8 316 255.5 C323.1 257.2 330.7 259.4 337.9 260.5 C345.1 261.6 352.3 261.5 359.3 262.2 C366.3 262.9 374.5 264.1 380 264.8 C385.5 265.5 387.8 265.8 392.1 266.2 C396.5 266.6 402.1 267 406.1 267.1 C410.2 267.2 413.4 267 416.4 266.8 C419.4 266.6 420.2 266.4 424.2 266.2 C428.2 266 436.4 265.9 440.6 265.9 C444.9 265.9 446.7 265.9 449.7 266.2 C452.7 266.5 455.3 267 458.8 267.7 C462.3 268.4 467.4 269.4 470.9 270.2 C474.4 271 476.1 271.2 480 272.3 C483.9 273.4 489.4 275.6 494.6 276.9 C499.8 278.2 506.4 279.2 511 280.3 C515.6 281.4 517.8 281.8 522.2 283.3 C526.6 284.9 532.2 287.2 537.2 289.6 C542.2 292 546.6 295 552.1 297.8 C557.6 300.6 565 304 570 306.5 C575 309 577.1 310.6 582 312.8 C586.9 315.1 593.4 317.6 599.1 320 C604.8 322.4 609.8 324.7 616.2 327.3 C622.6 329.9 631.8 333.7 637.5 335.8 C643.2 337.9 645.3 338.8 650.3 340.1 C655.3 341.4 661.6 342.4 667.3 343.5 C673 344.6 680.1 345.8 684.4 346.9 C688.7 348 689.5 348.1 692.9 349.9 C696.3 351.7 702.8 356.1 705 357.5 C707.2 358.9 702.5 356 706.3 358.1 C710.1 360.2 720.5 366.1 727.6 369.9 C734.7 373.7 741 377.6 749 381 C757 384.4 768.5 388 775.6 390.1 C782.7 392.2 785.4 392.5 791.6 393.8 C797.8 395.1 806.7 396.9 812.9 398.1 C819.1 399.4 821.9 400.9 828.9 401.3 C835.9 401.8 847.9 400.8 855 400.8 C862.1 400.8 865 400.7 871.3 401.1 C877.6 401.5 883.7 402 892.6 403.3 C901.5 404.6 915.7 407.7 924.6 408.9 C933.5 410.1 938 410.2 946 410.7 C954 411.2 966.4 411.2 972.6 411.8 C978.8 412.4 978.8 413.4 983.3 414.4 C987.8 415.4 993.2 415.3 999.3 417.6 C1005.4 419.9 1013.2 424.6 1020 428.3 C1026.8 432 1034.7 437.2 1039.8 440 C1044.9 442.8 1045.4 443.4 1050.4 445.3 C1055.4 447.2 1063.7 450.2 1069.6 451.7 C1075.5 453.2 1080.3 453.1 1085.6 454.4 C1090.9 455.7 1095.4 457.8 1101.6 459.7 C1107.8 461.6 1115.8 463.7 1122.9 465.6 C1130 467.5 1136.2 469.1 1144.3 470.9 C1152.3 472.7 1162.5 473.4 1171.2 476.6 C1180 479.8 1190.4 486.9 1196.8 490 C1203.2 493.1 1205.5 493.2 1209.5 495.2 C1213.5 497.2 1219.1 500.9 1221 502"/>
<path fill="none" stroke="#585858" stroke-width="1.1" stroke-linejoin="round" d="M47 265.2 C48.3 264.5 51.6 262.3 55 261 C58.4 259.7 63.7 258.7 67.4 257.2 C71.1 255.7 73.6 253.3 77 251.8 C80.4 250.3 83.2 249.3 87.6 248.1 C92 246.9 98.3 245 103.6 244.4 C108.9 243.8 114.3 245 119.6 244.4 C124.9 243.8 130.3 242.8 135.6 241 C140.9 239.2 147.1 235.5 151.6 233.7 C156.1 231.9 158.7 230.5 162.3 230.3 C165.9 230.1 168.6 231.6 173 232.6 C177.4 233.6 184 235.2 189 236.4 C194 237.7 198.5 239.3 202.8 240.1 C207.1 240.9 211.1 241.1 215 241.3 C218.9 241.5 222.7 241.6 226 241.1 C229.3 240.6 231.7 238.9 234.7 238.3 C237.7 237.7 240.6 237.5 244.1 237.3 C247.6 237.1 253 236.6 255.9 237.1 C258.8 237.6 259.7 239.3 261.4 240.3 C263.1 241.3 263.6 242 266 243.2 C268.4 244.4 273 246.1 276.1 247.6 C279.2 249.1 280.5 250 284.6 252 C288.7 254 295.3 257 300.6 259.4 C305.9 261.8 311.3 264.5 316.6 266.3 C321.9 268.1 328.2 269.5 332.6 270.2 C337.1 270.9 338.9 270.6 343.3 270.4 C347.8 270.2 354.9 268.7 359.3 269 C363.7 269.3 366.4 271.4 369.9 272 C373.3 272.6 376.8 272.4 380 272.6 C383.2 272.8 384.8 272.9 389.1 273.2 C393.5 273.5 402 274.5 406.1 274.4 C410.2 274.3 411.7 273.2 413.9 272.6 C416.1 272 417.4 271.2 419.4 270.5 C421.4 269.8 423.6 268.9 426.1 268.6 C428.6 268.3 431.1 268.7 434.5 268.6 C437.9 268.5 443.7 267.9 446.7 268 C449.7 268.1 450.2 268.7 452.7 269.5 C455.2 270.3 459 271.4 461.8 272.6 C464.6 273.8 466.7 275.4 469.7 276.5 C472.7 277.6 475.7 277.2 480 278.9 C484.3 280.6 490.2 284.6 495.4 286.6 C500.6 288.6 506.8 289.5 511 290.7 C515.2 291.9 517.6 291.9 520.7 293.7 C523.8 295.5 525.7 298.7 529.7 301.6 C533.7 304.5 539.6 308.1 544.6 311.3 C549.6 314.5 555.4 318.1 559.6 321 C563.8 323.9 566.3 325.8 570 328.4 C573.7 331 578.6 335.1 581.8 336.9 C585 338.7 585.4 337.2 589.3 339 C593.2 340.8 600 345.3 605.3 347.6 C610.6 349.9 616 350.7 621.3 352.9 C626.6 355.1 632.9 359 637.3 360.9 C641.7 362.8 642.6 363.8 647.9 364.1 C653.2 364.5 663 362.8 669.2 363 C675.4 363.2 681.1 364.8 685 365.6 C688.9 366.4 689.8 365.9 692.5 367.7 C695.2 369.5 695.1 371.9 701 376.5 C706.9 381.1 719.2 389.8 727.6 395.4 C736 401 744 407.4 751.1 410.4 C758.2 413.4 766.2 412.7 770.3 413.6 C774.4 414.5 772 415.3 775.6 415.7 C779.2 416.1 783.6 416 791.6 416.2 C799.6 416.4 816.5 416.9 823.6 416.8 C830.7 416.7 830.8 416.2 834.3 415.7 C837.8 415.2 841.4 414.2 844.9 413.6 C848.4 413 850.6 413.1 855 412.3 C859.4 411.5 865 409.2 871.3 408.9 C877.6 408.5 884.6 408.8 892.6 410.2 C900.6 411.6 910.4 415.9 919.3 417.1 C928.2 418.3 937.1 417.3 946 417.4 C954.9 417.4 966.4 416.7 972.6 417.4 C978.8 418.1 979.8 420.4 983.3 421.4 C986.8 422.4 990.3 421.8 993.9 423.5 C997.5 425.2 1001.2 428.9 1004.6 431.5 C1008 434.1 1010.5 435.8 1014.2 439 C1017.9 442.2 1023.1 447.4 1027 450.7 C1030.9 454 1033.2 455.2 1037.6 458.7 C1042 462.1 1048.3 469 1053.6 471.4 C1058.9 473.8 1064.3 472.6 1069.6 473 C1074.9 473.4 1081.1 472.9 1085.6 473.6 C1090 474.3 1091.8 476.1 1096.3 477.3 C1100.8 478.5 1108.3 480.1 1112.3 481 C1116.2 481.9 1116.5 482 1120 483 C1123.5 484 1129.5 486 1133.6 486.9 C1137.6 487.8 1140.2 487.8 1144.3 488.2 C1148.4 488.6 1153.9 488.8 1158.4 489.4 C1162.9 490 1168 490.7 1171.2 492 C1174.4 493.3 1173.3 494.1 1177.6 497.1 C1181.9 500.1 1191.5 506.5 1196.8 509.9 C1202.1 513.3 1205.5 514.8 1209.5 517.6 C1213.5 520.4 1219.1 525.3 1221 526.8"/>
<rect x="46.2" y="95" width="1.6" height="624.5" fill="#5a5a5a"/>
<rect x="47" y="718.5" width="1174" height="1.4" fill="#1e1e1e"/>
<rect x="41.5" y="220.9" width="5" height="1.3" fill="#222"/>
<text x="41.2" y="225.1" text-anchor="end" class="ax" textLength="16.8" lengthAdjust="spacingAndGlyphs">1.20</text>
<rect x="41.5" y="344.9" width="5" height="1.3" fill="#222"/>
<text x="41.2" y="349.1" text-anchor="end" class="ax" textLength="16.8" lengthAdjust="spacingAndGlyphs">1.15</text>
<rect x="41.5" y="469.9" width="5" height="1.3" fill="#222"/>
<text x="41.2" y="474.1" text-anchor="end" class="ax" textLength="16.8" lengthAdjust="spacingAndGlyphs">1.10</text>
<rect x="41.5" y="593.9" width="5" height="1.3" fill="#222"/>
<text x="41.2" y="598.1" text-anchor="end" class="ax" textLength="16.8" lengthAdjust="spacingAndGlyphs">1.05</text>
<rect x="41.5" y="718" width="5" height="1.3" fill="#222"/>
<text x="41.2" y="722.2" text-anchor="end" class="ax" textLength="16.8" lengthAdjust="spacingAndGlyphs">1.00</text>
<rect x="169.8" y="719" width="1.4" height="6" fill="#6a6a6a"/>
<text x="171" y="733" text-anchor="middle" class="ax" textLength="23" lengthAdjust="spacingAndGlyphs">12:20</text>
<rect x="340.8" y="719" width="1.4" height="6" fill="#6a6a6a"/>
<text x="342" y="733" text-anchor="middle" class="ax" textLength="23" lengthAdjust="spacingAndGlyphs">12:40</text>
<rect x="510.8" y="719" width="1.4" height="6" fill="#6a6a6a"/>
<text x="512" y="733" text-anchor="middle" class="ax" textLength="23" lengthAdjust="spacingAndGlyphs">13:00</text>
<rect x="681.8" y="719" width="1.4" height="6" fill="#6a6a6a"/>
<text x="683" y="733" text-anchor="middle" class="ax" textLength="23" lengthAdjust="spacingAndGlyphs">13:20</text>
<rect x="852.8" y="719" width="1.4" height="6" fill="#6a6a6a"/>
<text x="854" y="733" text-anchor="middle" class="ax" textLength="23" lengthAdjust="spacingAndGlyphs">13:40</text>
<rect x="1023.8" y="719" width="1.4" height="6" fill="#6a6a6a"/>
<text x="1025" y="733" text-anchor="middle" class="ax" textLength="23" lengthAdjust="spacingAndGlyphs">14:00</text>
<rect x="1194.8" y="719" width="1.4" height="6" fill="#6a6a6a"/>
<text x="1196" y="733" text-anchor="middle" class="ax" textLength="23" lengthAdjust="spacingAndGlyphs">14:20</text>
<rect x="498.5" y="83.5" width="5" height="7" rx="1.5" fill="#22cc22"/><rect x="500.4" y="90" width="1.2" height="3" fill="#888"/>
<text x="506.3" y="92.8" class="lg" textLength="24.4" lengthAdjust="spacingAndGlyphs">OHLC</text>
<rect x="534.8" y="86.3" width="8.3" height="7.7" rx="1.2" fill="#6aa6c8"/>
<text x="547.2" y="92.8" class="lg" textLength="32.6" lengthAdjust="spacingAndGlyphs">Volume</text>
<path d="M588.5 84.7 L593.6 93.7 L583.4 93.7 Z" fill="#ee22ee"/><rect x="588" y="87.5" width="1.1" height="3.4" fill="#fff"/><rect x="588" y="91.6" width="1.1" height="1" fill="#fff"/>
<text x="597.3" y="92.8" class="lg" textLength="43" lengthAdjust="spacingAndGlyphs">Crossover</text>
<text x="1138.8" y="91.8" class="an" textLength="37" lengthAdjust="spacingAndGlyphs">Annotate</text>
<path d="M1185.6 85.6 H1180.7 V91.4 H1187.4 V88.4" fill="none" stroke="#666" stroke-width="1"/><path d="M1188.8 85.4 L1184.1 90.4" stroke="#3a3a3a" stroke-width="1.5"/>
<path d="M1196.6 85.6 A3.4 3.4 0 1 1 1194.6 87.4" fill="none" stroke="#a0a0a0" stroke-width="1.1"/><path d="M1194.3 85.4 L1194.6 87.6 L1196.6 87.2" fill="none" stroke="#b0b0b0" stroke-width="0.8"/>
<path d="M1210.7 85.6 A3.4 3.4 0 1 0 1212.7 87.4" fill="none" stroke="#a0a0a0" stroke-width="1.1"/><path d="M1213 85.4 L1212.7 87.6 L1210.7 87.2" fill="none" stroke="#b0b0b0" stroke-width="0.8"/>
<line x1="1305.5" y1="96" x2="1305.5" y2="719" stroke="#d6d6d6" stroke-width="1"/>
<line x1="1374.5" y1="96" x2="1374.5" y2="719" stroke="#d6d6d6" stroke-width="1"/>
<line x1="1443.5" y1="96" x2="1443.5" y2="719" stroke="#d6d6d6" stroke-width="1"/>
<line x1="1512.5" y1="96" x2="1512.5" y2="719" stroke="#d6d6d6" stroke-width="1"/>
<line x1="1581.5" y1="96" x2="1581.5" y2="719" stroke="#d6d6d6" stroke-width="1"/>
<line x1="1250" y1="101.5" x2="1610" y2="101.5" stroke="#d6d6d6" stroke-width="1"/>
<line x1="1250" y1="224.5" x2="1610" y2="224.5" stroke="#d6d6d6" stroke-width="1"/>
<line x1="1250" y1="346.5" x2="1610" y2="346.5" stroke="#d6d6d6" stroke-width="1"/>
<line x1="1250" y1="469.5" x2="1610" y2="469.5" stroke="#d6d6d6" stroke-width="1"/>
<line x1="1250" y1="592.5" x2="1610" y2="592.5" stroke="#d6d6d6" stroke-width="1"/>
<line x1="1250" y1="714.5" x2="1610" y2="714.5" stroke="#d6d6d6" stroke-width="1"/>
<rect x="1333" y="222" width="110.8" height="2.8" fill="#df5560"/>
<rect x="1443.8" y="222" width="42.2" height="2.8" fill="#99ea92"/>
<rect x="1292" y="246.3" width="151.8" height="2.8" fill="#df5560"/>
<rect x="1443.8" y="246.3" width="69.2" height="2.8" fill="#99ea92"/>
<rect x="1278" y="271.2" width="165.8" height="2.8" fill="#df5560"/>
<rect x="1443.8" y="271.2" width="97.2" height="2.8" fill="#99ea92"/>
<rect x="1388.4" y="295.5" width="55.4" height="2.8" fill="#df5560"/>
<rect x="1443.8" y="295.5" width="56.2" height="2.8" fill="#99ea92"/>
<rect x="1416" y="320.1" width="27.8" height="2.8" fill="#df5560"/>
<rect x="1443.8" y="320.1" width="14.2" height="2.8" fill="#99ea92"/>
<rect x="1388.4" y="344.6" width="55.4" height="2.8" fill="#df5560"/>
<rect x="1443.8" y="344.6" width="14.2" height="2.8" fill="#99ea92"/>
<rect x="1347" y="369.1" width="96.8" height="2.8" fill="#df5560"/>
<rect x="1443.8" y="369.1" width="69.8" height="2.8" fill="#99ea92"/>
<rect x="1388.4" y="393.6" width="55.4" height="2.8" fill="#df5560"/>
<rect x="1443.8" y="393.6" width="42" height="2.8" fill="#99ea92"/>
<rect x="1250" y="418.3" width="193.8" height="2.8" fill="#df5560"/>
<rect x="1443.8" y="418.3" width="166" height="2.8" fill="#99ea92"/>
<rect x="1430" y="442.6" width="13.8" height="2.8" fill="#df5560"/>
<rect x="1443.8" y="442.6" width="56.2" height="2.8" fill="#99ea92"/>
<rect x="1402.5" y="467.2" width="41.3" height="2.8" fill="#df5560"/>
<rect x="1443.8" y="467.2" width="14.2" height="2.8" fill="#99ea92"/>
<rect x="1388.4" y="491.6" width="55.4" height="2.8" fill="#df5560"/>
<rect x="1443.8" y="491.6" width="166" height="2.8" fill="#99ea92"/>
<rect x="1402.5" y="540.6" width="41.3" height="2.8" fill="#df5560"/>
<rect x="1443.8" y="540.6" width="13.7" height="2.8" fill="#99ea92"/>
<rect x="1430" y="565.2" width="13.8" height="2.8" fill="#df5560"/>
<rect x="1609.4" y="95" width="1.5" height="624.5" fill="#222"/>
<rect x="1250" y="718.5" width="360" height="1.4" fill="#222"/>
<rect x="1610" y="100.9" width="5.5" height="1.3" fill="#222"/>
<text x="1617.3" y="105.1" class="ax" textLength="17.6" lengthAdjust="spacingAndGlyphs">1.25</text>
<rect x="1610" y="223.9" width="5.5" height="1.3" fill="#222"/>
<text x="1617.3" y="228.1" class="ax" textLength="17.6" lengthAdjust="spacingAndGlyphs">1.20</text>
<rect x="1610" y="345.9" width="5.5" height="1.3" fill="#222"/>
<text x="1617.3" y="350.1" class="ax" textLength="17.6" lengthAdjust="spacingAndGlyphs">1.15</text>
<rect x="1610" y="468.9" width="5.5" height="1.3" fill="#222"/>
<text x="1617.3" y="473.1" class="ax" textLength="17.6" lengthAdjust="spacingAndGlyphs">1.10</text>
<rect x="1610" y="591.9" width="5.5" height="1.3" fill="#222"/>
<text x="1617.3" y="596.1" class="ax" textLength="17.6" lengthAdjust="spacingAndGlyphs">1.05</text>
<rect x="1610" y="713.9" width="5.5" height="1.3" fill="#222"/>
<text x="1617.3" y="718.1" class="ax" textLength="17.6" lengthAdjust="spacingAndGlyphs">1.00</text>
<rect x="1304.8" y="719" width="1.4" height="6" fill="#222"/>
<text x="1305.5" y="733" text-anchor="middle" class="ax" textLength="27" lengthAdjust="spacingAndGlyphs">-10.00</text>
<rect x="1373.8" y="719" width="1.4" height="6" fill="#222"/>
<text x="1374.5" y="733" text-anchor="middle" class="ax" textLength="21.3" lengthAdjust="spacingAndGlyphs">-5.00</text>
<rect x="1442.8" y="719" width="1.4" height="6" fill="#222"/>
<text x="1443.5" y="733" text-anchor="middle" class="ax" textLength="18.4" lengthAdjust="spacingAndGlyphs">0.00</text>
<rect x="1511.8" y="719" width="1.4" height="6" fill="#222"/>
<text x="1512.5" y="733" text-anchor="middle" class="ax" textLength="18.4" lengthAdjust="spacingAndGlyphs">5.00</text>
<rect x="1580.8" y="719" width="1.4" height="6" fill="#222"/>
<text x="1581.5" y="733" text-anchor="middle" class="ax" textLength="23" lengthAdjust="spacingAndGlyphs">10.00</text>
<rect x="1408.5" y="85.5" width="8" height="8" rx="1.5" fill="#f01414"/><text x="1421" y="93" class="lg">Sell</text>
<rect x="1439.5" y="85.5" width="8" height="8" rx="1.5" fill="#4cc24c"/><text x="1452" y="93" class="lg">Buy</text>
<line x1="80" y1="753" x2="80" y2="896" stroke="#e4e4e4" stroke-width="1"/>
<line x1="231" y1="753" x2="231" y2="896" stroke="#e4e4e4" stroke-width="1"/>
<line x1="382.5" y1="753" x2="382.5" y2="896" stroke="#e4e4e4" stroke-width="1"/>
<line x1="533.5" y1="753" x2="533.5" y2="896" stroke="#e4e4e4" stroke-width="1"/>
<line x1="685" y1="753" x2="685" y2="896" stroke="#e4e4e4" stroke-width="1"/>
<line x1="836" y1="753" x2="836" y2="896" stroke="#e4e4e4" stroke-width="1"/>
<line x1="987" y1="753" x2="987" y2="896" stroke="#e4e4e4" stroke-width="1"/>
<line x1="1138" y1="753" x2="1138" y2="896" stroke="#e4e4e4" stroke-width="1"/>
<line x1="207" y1="753" x2="207" y2="896" stroke="#f4bed2" stroke-width="1"/>
<line x1="228.6" y1="753" x2="228.6" y2="896" stroke="#f4bed2" stroke-width="1"/>
<line x1="252.7" y1="753" x2="252.7" y2="896" stroke="#f4bed2" stroke-width="1"/>
<line x1="267.8" y1="753" x2="267.8" y2="896" stroke="#f4bed2" stroke-width="1"/>
<line x1="304.1" y1="753" x2="304.1" y2="896" stroke="#f4bed2" stroke-width="1"/>
<line x1="540.3" y1="753" x2="540.3" y2="896" stroke="#f4bed2" stroke-width="1"/>
<line x1="1086.4" y1="753" x2="1086.4" y2="896" stroke="#f4bed2" stroke-width="1"/>
<line x1="1113.6" y1="753" x2="1113.6" y2="896" stroke="#f4bed2" stroke-width="1"/>
<line x1="1201.6" y1="753" x2="1201.6" y2="896" stroke="#f4bed2" stroke-width="1"/>
<line x1="692.3" y1="753" x2="692.3" y2="896" stroke="#e060e0" stroke-width="1"/>
<rect x="50.6" y="808.4" width="1.3" height="2.6" fill="#b2d8f4"/>
<rect x="53.6" y="806" width="1.3" height="5" fill="#c3d3e0"/>
<rect x="56.6" y="805.3" width="1.3" height="5.7" fill="#b2d8f4"/>
<rect x="59.6" y="802" width="1.3" height="9" fill="#c3d3e0"/>
<rect x="62.6" y="794.4" width="1.3" height="16.6" fill="#b2d8f4"/>
<rect x="65.7" y="791.3" width="1.3" height="19.7" fill="#c3d3e0"/>
<rect x="68.7" y="784.3" width="1.3" height="26.7" fill="#b2d8f4"/>
<rect x="71.7" y="777.5" width="1.3" height="33.5" fill="#c3d3e0"/>
<rect x="74.7" y="770.5" width="1.3" height="40.5" fill="#b2d8f4"/>
<rect x="77.7" y="761.8" width="1.3" height="49.2" fill="#c3d3e0"/>
<rect x="80.8" y="758.3" width="1.3" height="52.7" fill="#b2d8f4"/>
<rect x="83.8" y="754.2" width="1.3" height="56.8" fill="#c3d3e0"/>
<rect x="86.8" y="754.1" width="1.3" height="56.9" fill="#b2d8f4"/>
<rect x="89.8" y="755.6" width="1.3" height="55.4" fill="#c3d3e0"/>
<rect x="92.9" y="756.8" width="1.3" height="54.2" fill="#b2d8f4"/>
<rect x="95.9" y="756.3" width="1.3" height="54.7" fill="#c3d3e0"/>
<rect x="98.9" y="758.1" width="1.3" height="52.9" fill="#b2d8f4"/>
<rect x="101.9" y="760.4" width="1.3" height="50.6" fill="#c3d3e0"/>
<rect x="104.9" y="767.8" width="1.3" height="43.2" fill="#b2d8f4"/>
<rect x="108" y="772.1" width="1.3" height="38.9" fill="#c3d3e0"/>
<rect x="111" y="779.7" width="1.3" height="31.3" fill="#b2d8f4"/>
<rect x="114" y="782" width="1.3" height="29" fill="#c3d3e0"/>
<rect x="117" y="785.7" width="1.3" height="25.3" fill="#b2d8f4"/>
<rect x="120.1" y="785.5" width="1.3" height="25.5" fill="#c3d3e0"/>
<rect x="123.1" y="787.9" width="1.3" height="23.1" fill="#b2d8f4"/>
<rect x="126.1" y="788.1" width="1.3" height="22.9" fill="#c3d3e0"/>
<rect x="129.1" y="788.8" width="1.3" height="22.2" fill="#b2d8f4"/>
<rect x="132.1" y="788.6" width="1.3" height="22.4" fill="#c3d3e0"/>
<rect x="135.2" y="784.8" width="1.3" height="26.2" fill="#b2d8f4"/>
<rect x="138.2" y="781" width="1.3" height="30" fill="#c3d3e0"/>
<rect x="141.2" y="779.8" width="1.3" height="31.2" fill="#b2d8f4"/>
<rect x="144.2" y="782.6" width="1.3" height="28.4" fill="#c3d3e0"/>
<rect x="147.3" y="786.6" width="1.3" height="24.4" fill="#b2d8f4"/>
<rect x="150.3" y="787.9" width="1.3" height="23.1" fill="#c3d3e0"/>
<rect x="153.3" y="795.3" width="1.3" height="15.7" fill="#b2d8f4"/>
<rect x="156.3" y="795.9" width="1.3" height="15.1" fill="#c3d3e0"/>
<rect x="159.3" y="799.1" width="1.3" height="11.9" fill="#b2d8f4"/>
<rect x="162.4" y="801.6" width="1.3" height="9.4" fill="#c3d3e0"/>
<rect x="165.4" y="802" width="1.3" height="9" fill="#b2d8f4"/>
<rect x="168.4" y="800.6" width="1.3" height="10.4" fill="#c3d3e0"/>
<rect x="171.4" y="797.6" width="1.3" height="13.4" fill="#b2d8f4"/>
<rect x="174.5" y="797" width="1.3" height="14" fill="#c3d3e0"/>
<rect x="177.5" y="799.7" width="1.3" height="11.3" fill="#b2d8f4"/>
<rect x="180.5" y="799.7" width="1.3" height="11.3" fill="#c3d3e0"/>
<rect x="183.5" y="800.9" width="1.3" height="10.1" fill="#b2d8f4"/>
<rect x="186.5" y="796.9" width="1.3" height="14.1" fill="#c3d3e0"/>
<rect x="189.6" y="796.2" width="1.3" height="14.8" fill="#b2d8f4"/>
<rect x="192.6" y="797.6" width="1.3" height="13.4" fill="#c3d3e0"/>
<rect x="195.6" y="800" width="1.3" height="11" fill="#b2d8f4"/>
<rect x="198.6" y="803" width="1.3" height="8" fill="#c3d3e0"/>
<rect x="201.7" y="806.4" width="1.3" height="4.6" fill="#b2d8f4"/>
<rect x="204.7" y="811" width="1.3" height="4.1" fill="#c3d3e0"/>
<rect x="207.7" y="811" width="1.3" height="4.7" fill="#b2d8f4"/>
<rect x="210.7" y="811" width="1.3" height="3.6" fill="#c3d3e0"/>
<rect x="213.7" y="811" width="1.3" height="1.5" fill="#b2d8f4"/>
<rect x="216.8" y="811" width="1.3" height="1.9" fill="#c3d3e0"/>
<rect x="219.8" y="811" width="1.3" height="2" fill="#b2d8f4"/>
<rect x="222.8" y="811" width="1.3" height="0.6" fill="#c3d3e0"/>
<rect x="225.8" y="809.1" width="1.3" height="1.9" fill="#b2d8f4"/>
<rect x="228.8" y="802.5" width="1.3" height="8.5" fill="#c3d3e0"/>
<rect x="231.9" y="798.6" width="1.3" height="12.4" fill="#b2d8f4"/>
<rect x="234.9" y="791" width="1.3" height="20" fill="#c3d3e0"/>
<rect x="237.9" y="786.8" width="1.3" height="24.2" fill="#b2d8f4"/>
<rect x="240.9" y="789.6" width="1.3" height="21.4" fill="#c3d3e0"/>
<rect x="244" y="795.2" width="1.3" height="15.8" fill="#b2d8f4"/>
<rect x="247" y="802" width="1.3" height="9" fill="#c3d3e0"/>
<rect x="250" y="810.3" width="1.3" height="0.7" fill="#b2d8f4"/>
<rect x="253" y="811" width="1.3" height="3.9" fill="#c3d3e0"/>
<rect x="256" y="811" width="1.3" height="7.2" fill="#b2d8f4"/>
<rect x="259.1" y="811" width="1.3" height="7" fill="#c3d3e0"/>
<rect x="262.1" y="811" width="1.3" height="3.1" fill="#b2d8f4"/>
<rect x="265.1" y="806.7" width="1.3" height="4.3" fill="#c3d3e0"/>
<rect x="268.1" y="801.1" width="1.3" height="9.9" fill="#b2d8f4"/>
<rect x="271.2" y="792.4" width="1.3" height="18.6" fill="#c3d3e0"/>
<rect x="274.2" y="789.6" width="1.3" height="21.4" fill="#b2d8f4"/>
<rect x="277.2" y="790.3" width="1.3" height="20.7" fill="#c3d3e0"/>
<rect x="280.2" y="791.7" width="1.3" height="19.3" fill="#b2d8f4"/>
<rect x="283.2" y="791.5" width="1.3" height="19.5" fill="#c3d3e0"/>
<rect x="286.3" y="791.9" width="1.3" height="19.1" fill="#b2d8f4"/>
<rect x="289.3" y="793.4" width="1.3" height="17.6" fill="#c3d3e0"/>
<rect x="292.3" y="794.4" width="1.3" height="16.6" fill="#b2d8f4"/>
<rect x="295.3" y="799.2" width="1.3" height="11.8" fill="#c3d3e0"/>
<rect x="298.4" y="806.8" width="1.3" height="4.2" fill="#b2d8f4"/>
<rect x="301.4" y="811" width="1.3" height="2.3" fill="#c3d3e0"/>
<rect x="304.4" y="811" width="1.3" height="11.8" fill="#b2d8f4"/>
<rect x="307.4" y="811" width="1.3" height="15.4" fill="#c3d3e0"/>
<rect x="310.4" y="811" width="1.3" height="21.9" fill="#b2d8f4"/>
<rect x="313.5" y="811" width="1.3" height="23.8" fill="#c3d3e0"/>
<rect x="316.5" y="811" width="1.3" height="24" fill="#b2d8f4"/>
<rect x="319.5" y="811" width="1.3" height="27.1" fill="#c3d3e0"/>
<rect x="322.5" y="811" width="1.3" height="30" fill="#b2d8f4"/>
<rect x="325.6" y="811" width="1.3" height="40.5" fill="#c3d3e0"/>
<rect x="328.6" y="811" width="1.3" height="53.1" fill="#b2d8f4"/>
<rect x="331.6" y="811" width="1.3" height="63.2" fill="#c3d3e0"/>
<rect x="334.6" y="811" width="1.3" height="69.8" fill="#b2d8f4"/>
<rect x="337.6" y="811" width="1.3" height="71.6" fill="#c3d3e0"/>
<rect x="340.7" y="811" width="1.3" height="70.1" fill="#b2d8f4"/>
<rect x="343.7" y="811" width="1.3" height="67.5" fill="#c3d3e0"/>
<rect x="346.7" y="811" width="1.3" height="65.3" fill="#b2d8f4"/>
<rect x="349.7" y="811" width="1.3" height="62.4" fill="#c3d3e0"/>
<rect x="352.8" y="811" width="1.3" height="60.4" fill="#b2d8f4"/>
<rect x="355.8" y="811" width="1.3" height="62.4" fill="#c3d3e0"/>
<rect x="358.8" y="811" width="1.3" height="66.3" fill="#b2d8f4"/>
<rect x="361.8" y="811" width="1.3" height="70.3" fill="#c3d3e0"/>
<rect x="364.8" y="811" width="1.3" height="72.4" fill="#b2d8f4"/>
<rect x="367.9" y="811" width="1.3" height="73.9" fill="#c3d3e0"/>
<rect x="370.9" y="811" width="1.3" height="75.6" fill="#b2d8f4"/>
<rect x="373.9" y="811" width="1.3" height="76.1" fill="#c3d3e0"/>
<rect x="376.9" y="811" width="1.3" height="75.8" fill="#b2d8f4"/>
<rect x="379.9" y="811" width="1.3" height="74.6" fill="#c3d3e0"/>
<rect x="383" y="811" width="1.3" height="75.3" fill="#b2d8f4"/>
<rect x="386" y="811" width="1.3" height="75.3" fill="#c3d3e0"/>
<rect x="389" y="811" width="1.3" height="76.7" fill="#b2d8f4"/>
<rect x="392" y="811" width="1.3" height="77.6" fill="#c3d3e0"/>
<rect x="395.1" y="811" width="1.3" height="76.7" fill="#b2d8f4"/>
<rect x="398.1" y="811" width="1.3" height="74.3" fill="#c3d3e0"/>
<rect x="401.1" y="811" width="1.3" height="72" fill="#b2d8f4"/>
<rect x="404.1" y="811" width="1.3" height="69.9" fill="#c3d3e0"/>
<rect x="407.1" y="811" width="1.3" height="66.9" fill="#b2d8f4"/>
<rect x="410.2" y="811" width="1.3" height="63.9" fill="#c3d3e0"/>
<rect x="413.2" y="811" width="1.3" height="60.6" fill="#b2d8f4"/>
<rect x="416.2" y="811" width="1.3" height="56.1" fill="#c3d3e0"/>
<rect x="419.2" y="811" width="1.3" height="53.1" fill="#b2d8f4"/>
<rect x="422.3" y="811" width="1.3" height="46.8" fill="#c3d3e0"/>
<rect x="425.3" y="811" width="1.3" height="42.1" fill="#b2d8f4"/>
<rect x="428.3" y="811" width="1.3" height="34" fill="#c3d3e0"/>
<rect x="431.3" y="811" width="1.3" height="25" fill="#b2d8f4"/>
<rect x="434.3" y="811" width="1.3" height="20.7" fill="#c3d3e0"/>
<rect x="437.4" y="811" width="1.3" height="17.6" fill="#b2d8f4"/>
<rect x="440.4" y="811" width="1.3" height="13" fill="#c3d3e0"/>
<rect x="443.4" y="811" width="1.3" height="8.4" fill="#b2d8f4"/>
<rect x="446.4" y="811" width="1.3" height="4.3" fill="#c3d3e0"/>
<rect x="449.5" y="811" width="1.3" height="2" fill="#b2d8f4"/>
<rect x="452.5" y="811" width="1.3" height="3.6" fill="#c3d3e0"/>
<rect x="455.5" y="811" width="1.3" height="6.6" fill="#b2d8f4"/>
<rect x="458.5" y="811" width="1.3" height="14.2" fill="#c3d3e0"/>
<rect x="461.5" y="811" width="1.3" height="21.8" fill="#b2d8f4"/>
<rect x="464.6" y="811" width="1.3" height="23.9" fill="#c3d3e0"/>
<rect x="467.6" y="811" width="1.3" height="23.6" fill="#b2d8f4"/>
<rect x="470.6" y="811" width="1.3" height="22.3" fill="#c3d3e0"/>
<rect x="473.6" y="811" width="1.3" height="22.4" fill="#b2d8f4"/>
<rect x="476.7" y="811" width="1.3" height="25.2" fill="#c3d3e0"/>
<rect x="479.7" y="811" width="1.3" height="30.2" fill="#b2d8f4"/>
<rect x="482.7" y="811" width="1.3" height="35.5" fill="#c3d3e0"/>
<rect x="485.7" y="811" width="1.3" height="38.8" fill="#b2d8f4"/>
<rect x="488.7" y="811" width="1.3" height="44.8" fill="#c3d3e0"/>
<rect x="491.8" y="811" width="1.3" height="47.8" fill="#b2d8f4"/>
<rect x="494.8" y="811" width="1.3" height="50.1" fill="#c3d3e0"/>
<rect x="497.8" y="811" width="1.3" height="50.5" fill="#b2d8f4"/>
<rect x="500.8" y="811" width="1.3" height="49.9" fill="#c3d3e0"/>
<rect x="503.8" y="811" width="1.3" height="48.7" fill="#b2d8f4"/>
<rect x="506.9" y="811" width="1.3" height="46.3" fill="#c3d3e0"/>
<rect x="509.9" y="811" width="1.3" height="43.6" fill="#b2d8f4"/>
<rect x="512.9" y="811" width="1.3" height="41.4" fill="#c3d3e0"/>
<rect x="515.9" y="811" width="1.3" height="39.3" fill="#b2d8f4"/>
<rect x="519" y="811" width="1.3" height="37.5" fill="#c3d3e0"/>
<rect x="522" y="811" width="1.3" height="34" fill="#b2d8f4"/>
<rect x="525" y="811" width="1.3" height="26.4" fill="#c3d3e0"/>
<rect x="528" y="811" width="1.3" height="17.3" fill="#b2d8f4"/>
<rect x="531" y="811" width="1.3" height="11" fill="#c3d3e0"/>
<rect x="534.1" y="811" width="1.3" height="5" fill="#b2d8f4"/>
<rect x="537.1" y="811" width="1.3" height="1.8" fill="#c3d3e0"/>
<rect x="540.1" y="809.2" width="1.3" height="1.8" fill="#b2d8f4"/>
<rect x="543.1" y="801.7" width="1.3" height="9.3" fill="#c3d3e0"/>
<rect x="546.2" y="799.7" width="1.3" height="11.3" fill="#b2d8f4"/>
<rect x="549.2" y="797.7" width="1.3" height="13.3" fill="#c3d3e0"/>
<rect x="552.2" y="794.9" width="1.3" height="16.1" fill="#b2d8f4"/>
<rect x="555.2" y="792.6" width="1.3" height="18.4" fill="#c3d3e0"/>
<rect x="558.2" y="790.4" width="1.3" height="20.6" fill="#b2d8f4"/>
<rect x="561.3" y="788.8" width="1.3" height="22.2" fill="#c3d3e0"/>
<rect x="564.3" y="788.1" width="1.3" height="22.9" fill="#b2d8f4"/>
<rect x="567.3" y="790.5" width="1.3" height="20.5" fill="#c3d3e0"/>
<rect x="570.3" y="795.4" width="1.3" height="15.6" fill="#b2d8f4"/>
<rect x="573.4" y="798.7" width="1.3" height="12.3" fill="#c3d3e0"/>
<rect x="576.4" y="804.6" width="1.3" height="6.4" fill="#b2d8f4"/>
<rect x="579.4" y="806.1" width="1.3" height="4.9" fill="#c3d3e0"/>
<rect x="582.4" y="807.6" width="1.3" height="3.4" fill="#b2d8f4"/>
<rect x="585.4" y="808.4" width="1.3" height="2.6" fill="#c3d3e0"/>
<rect x="588.5" y="807.5" width="1.3" height="3.5" fill="#b2d8f4"/>
<rect x="591.5" y="805.5" width="1.3" height="5.5" fill="#c3d3e0"/>
<rect x="594.5" y="804.1" width="1.3" height="6.9" fill="#b2d8f4"/>
<rect x="597.5" y="804.1" width="1.3" height="6.9" fill="#c3d3e0"/>
<rect x="600.6" y="803.6" width="1.3" height="7.4" fill="#b2d8f4"/>
<rect x="603.6" y="801.3" width="1.3" height="9.7" fill="#c3d3e0"/>
<rect x="606.6" y="797.7" width="1.3" height="13.3" fill="#b2d8f4"/>
<rect x="609.6" y="789.6" width="1.3" height="21.4" fill="#c3d3e0"/>
<rect x="612.5" y="781.8" width="1.5" height="29.2" fill="#66aaf6"/>
<rect x="615.6" y="779.4" width="1.5" height="31.6" fill="#93b2d4"/>
<rect x="618.6" y="776.2" width="1.5" height="34.8" fill="#66aaf6"/>
<rect x="621.6" y="772.7" width="1.5" height="38.3" fill="#93b2d4"/>
<rect x="624.6" y="771.3" width="1.5" height="39.7" fill="#66aaf6"/>
<rect x="627.7" y="771.2" width="1.5" height="39.8" fill="#93b2d4"/>
<rect x="630.7" y="771.8" width="1.5" height="39.2" fill="#66aaf6"/>
<rect x="633.7" y="773.9" width="1.5" height="37.1" fill="#93b2d4"/>
<rect x="636.7" y="777.2" width="1.5" height="33.8" fill="#66aaf6"/>
<rect x="639.7" y="776.1" width="1.5" height="34.9" fill="#93b2d4"/>
<rect x="642.8" y="775.7" width="1.5" height="35.3" fill="#66aaf6"/>
<rect x="645.8" y="772.6" width="1.5" height="38.4" fill="#93b2d4"/>
<rect x="648.8" y="769.3" width="1.5" height="41.7" fill="#66aaf6"/>
<rect x="651.8" y="770.9" width="1.5" height="40.1" fill="#93b2d4"/>
<rect x="654.9" y="775.8" width="1.5" height="35.2" fill="#66aaf6"/>
<rect x="657.9" y="780.6" width="1.5" height="30.4" fill="#93b2d4"/>
<rect x="660.9" y="785.6" width="1.5" height="25.4" fill="#66aaf6"/>
<rect x="663.9" y="791.4" width="1.5" height="19.6" fill="#93b2d4"/>
<rect x="666.9" y="795.5" width="1.5" height="15.5" fill="#66aaf6"/>
<rect x="670" y="797.9" width="1.5" height="13.1" fill="#93b2d4"/>
<rect x="673" y="800.2" width="1.5" height="10.8" fill="#66aaf6"/>
<rect x="676" y="798.5" width="1.5" height="12.5" fill="#93b2d4"/>
<rect x="679" y="795.7" width="1.5" height="15.3" fill="#66aaf6"/>
<rect x="682" y="795.1" width="1.5" height="15.9" fill="#93b2d4"/>
<rect x="685.1" y="800.5" width="1.5" height="10.5" fill="#66aaf6"/>
<rect x="688.1" y="806.6" width="1.5" height="4.4" fill="#93b2d4"/>
<rect x="691.1" y="811" width="1.5" height="1.2" fill="#66aaf6"/>
<rect x="694.1" y="811" width="1.5" height="8.8" fill="#93b2d4"/>
<rect x="697.2" y="811" width="1.5" height="13.4" fill="#66aaf6"/>
<rect x="700.2" y="811" width="1.5" height="18" fill="#93b2d4"/>
<rect x="703.2" y="811" width="1.5" height="22.6" fill="#66aaf6"/>
<rect x="706.2" y="811" width="1.5" height="26.9" fill="#93b2d4"/>
<rect x="709.2" y="811" width="1.5" height="29" fill="#66aaf6"/>
<rect x="712.3" y="811" width="1.5" height="29.9" fill="#93b2d4"/>
<rect x="715.3" y="811" width="1.5" height="27.1" fill="#66aaf6"/>
<rect x="718.3" y="811" width="1.5" height="24" fill="#93b2d4"/>
<rect x="721.3" y="811" width="1.5" height="22.7" fill="#66aaf6"/>
<rect x="724.4" y="811" width="1.5" height="22.9" fill="#93b2d4"/>
<rect x="727.4" y="811" width="1.5" height="23.7" fill="#66aaf6"/>
<rect x="730.4" y="811" width="1.5" height="23.1" fill="#93b2d4"/>
<rect x="733.4" y="811" width="1.5" height="21.3" fill="#66aaf6"/>
<rect x="736.4" y="811" width="1.5" height="20.4" fill="#93b2d4"/>
<rect x="739.5" y="811" width="1.5" height="18.2" fill="#66aaf6"/>
<rect x="742.5" y="811" width="1.5" height="13.1" fill="#93b2d4"/>
<rect x="745.5" y="811" width="1.5" height="10" fill="#66aaf6"/>
<rect x="748.5" y="811" width="1.5" height="7.8" fill="#93b2d4"/>
<rect x="751.6" y="811" width="1.5" height="5.6" fill="#66aaf6"/>
<rect x="754.6" y="811" width="1.5" height="8.7" fill="#93b2d4"/>
<rect x="757.6" y="811" width="1.5" height="13.3" fill="#66aaf6"/>
<rect x="760.6" y="811" width="1.5" height="16.4" fill="#93b2d4"/>
<rect x="763.6" y="811" width="1.5" height="20.7" fill="#66aaf6"/>
<rect x="766.7" y="811" width="1.5" height="26.1" fill="#93b2d4"/>
<rect x="769.7" y="811" width="1.5" height="29.3" fill="#66aaf6"/>
<rect x="772.7" y="811" width="1.5" height="30.7" fill="#93b2d4"/>
<rect x="775.7" y="811" width="1.5" height="34.2" fill="#66aaf6"/>
<rect x="778.8" y="811" width="1.5" height="40.1" fill="#93b2d4"/>
<rect x="781.8" y="811" width="1.5" height="44.6" fill="#66aaf6"/>
<rect x="784.8" y="811" width="1.5" height="49" fill="#93b2d4"/>
<rect x="787.8" y="811" width="1.5" height="54.8" fill="#66aaf6"/>
<rect x="790.8" y="811" width="1.5" height="59.8" fill="#93b2d4"/>
<rect x="793.9" y="811" width="1.5" height="65.3" fill="#66aaf6"/>
<rect x="796.9" y="811" width="1.5" height="70.5" fill="#93b2d4"/>
<rect x="799.9" y="811" width="1.5" height="73.2" fill="#66aaf6"/>
<rect x="802.9" y="811" width="1.5" height="74" fill="#93b2d4"/>
<rect x="806" y="811" width="1.5" height="74.7" fill="#66aaf6"/>
<rect x="809" y="811" width="1.5" height="75.1" fill="#93b2d4"/>
<rect x="812" y="811" width="1.5" height="74.4" fill="#66aaf6"/>
<rect x="815" y="811" width="1.5" height="73.7" fill="#93b2d4"/>
<rect x="818" y="811" width="1.5" height="72.9" fill="#66aaf6"/>
<rect x="821.1" y="811" width="1.5" height="73.6" fill="#93b2d4"/>
<rect x="824.1" y="811" width="1.5" height="70.5" fill="#66aaf6"/>
<rect x="827.1" y="811" width="1.5" height="66.2" fill="#93b2d4"/>
<rect x="830.1" y="811" width="1.5" height="61.6" fill="#66aaf6"/>
<rect x="833.1" y="811" width="1.5" height="57.9" fill="#93b2d4"/>
<rect x="836.2" y="811" width="1.5" height="56.6" fill="#66aaf6"/>
<rect x="839.2" y="811" width="1.5" height="58.6" fill="#93b2d4"/>
<rect x="842.2" y="811" width="1.5" height="63.8" fill="#66aaf6"/>
<rect x="845.2" y="811" width="1.5" height="71.9" fill="#93b2d4"/>
<rect x="848.3" y="811" width="1.5" height="76.3" fill="#66aaf6"/>
<rect x="851.3" y="811" width="1.5" height="79.4" fill="#93b2d4"/>
<rect x="854.3" y="811" width="1.5" height="82.5" fill="#66aaf6"/>
<rect x="857.3" y="811" width="1.5" height="83.4" fill="#93b2d4"/>
<rect x="860.3" y="811" width="1.5" height="80.6" fill="#66aaf6"/>
<rect x="863.4" y="811" width="1.5" height="78.4" fill="#93b2d4"/>
<rect x="866.4" y="811" width="1.5" height="76" fill="#66aaf6"/>
<rect x="869.4" y="811" width="1.5" height="72.1" fill="#93b2d4"/>
<rect x="872.4" y="811" width="1.5" height="67.6" fill="#66aaf6"/>
<rect x="875.5" y="811" width="1.5" height="63.1" fill="#93b2d4"/>
<rect x="878.5" y="811" width="1.5" height="58.9" fill="#66aaf6"/>
<rect x="881.5" y="811" width="1.5" height="55.4" fill="#93b2d4"/>
<rect x="884.5" y="811" width="1.5" height="49.5" fill="#66aaf6"/>
<rect x="887.5" y="811" width="1.5" height="46.5" fill="#93b2d4"/>
<rect x="890.6" y="811" width="1.5" height="42" fill="#66aaf6"/>
<rect x="893.6" y="811" width="1.5" height="36.1" fill="#93b2d4"/>
<rect x="896.6" y="811" width="1.5" height="31.7" fill="#66aaf6"/>
<rect x="899.6" y="811" width="1.5" height="26.4" fill="#93b2d4"/>
<rect x="902.7" y="811" width="1.5" height="23.1" fill="#66aaf6"/>
<rect x="905.7" y="811" width="1.5" height="21.8" fill="#93b2d4"/>
<rect x="908.7" y="811" width="1.5" height="22.7" fill="#66aaf6"/>
<rect x="911.7" y="811" width="1.5" height="23.7" fill="#93b2d4"/>
<rect x="914.7" y="811" width="1.5" height="24.5" fill="#66aaf6"/>
<rect x="917.8" y="811" width="1.5" height="24.6" fill="#93b2d4"/>
<rect x="920.8" y="811" width="1.5" height="23.6" fill="#66aaf6"/>
<rect x="923.8" y="811" width="1.5" height="22.1" fill="#93b2d4"/>
<rect x="926.8" y="811" width="1.5" height="20.7" fill="#66aaf6"/>
<rect x="929.9" y="811" width="1.5" height="19.9" fill="#93b2d4"/>
<rect x="932.9" y="811" width="1.5" height="17.6" fill="#66aaf6"/>
<rect x="935.9" y="811" width="1.5" height="16.7" fill="#93b2d4"/>
<rect x="938.9" y="811" width="1.5" height="17.3" fill="#66aaf6"/>
<rect x="941.9" y="811" width="1.5" height="19.7" fill="#93b2d4"/>
<rect x="945" y="811" width="1.5" height="23.6" fill="#66aaf6"/>
<rect x="948" y="811" width="1.5" height="31" fill="#93b2d4"/>
<rect x="951" y="811" width="1.5" height="40.9" fill="#66aaf6"/>
<rect x="954" y="811" width="1.5" height="49.1" fill="#93b2d4"/>
<rect x="957" y="811" width="1.5" height="55.4" fill="#66aaf6"/>
<rect x="960.1" y="811" width="1.5" height="63.9" fill="#93b2d4"/>
<rect x="963.1" y="811" width="1.5" height="69.8" fill="#66aaf6"/>
<rect x="966.1" y="811" width="1.5" height="73.7" fill="#93b2d4"/>
<rect x="969.1" y="811" width="1.5" height="69.9" fill="#66aaf6"/>
<rect x="972.2" y="811" width="1.5" height="66.8" fill="#93b2d4"/>
<rect x="975.2" y="811" width="1.5" height="62.6" fill="#66aaf6"/>
<rect x="978.2" y="811" width="1.5" height="59.7" fill="#93b2d4"/>
<rect x="981.2" y="811" width="1.5" height="58.3" fill="#66aaf6"/>
<rect x="984.2" y="811" width="1.5" height="57.6" fill="#93b2d4"/>
<rect x="987.3" y="811" width="1.5" height="56.8" fill="#66aaf6"/>
<rect x="990.3" y="811" width="1.5" height="56" fill="#93b2d4"/>
<rect x="993.3" y="811" width="1.5" height="55.1" fill="#66aaf6"/>
<rect x="996.3" y="811" width="1.5" height="53.5" fill="#93b2d4"/>
<rect x="999.4" y="811" width="1.5" height="51.3" fill="#66aaf6"/>
<rect x="1002.4" y="811" width="1.5" height="49.8" fill="#93b2d4"/>
<rect x="1005.4" y="811" width="1.5" height="48.2" fill="#66aaf6"/>
<rect x="1008.4" y="811" width="1.5" height="49.3" fill="#93b2d4"/>
<rect x="1011.4" y="811" width="1.5" height="53.7" fill="#66aaf6"/>
<rect x="1014.5" y="811" width="1.5" height="59" fill="#93b2d4"/>
<rect x="1017.5" y="811" width="1.5" height="63.5" fill="#66aaf6"/>
<rect x="1020.5" y="811" width="1.5" height="67.2" fill="#93b2d4"/>
<rect x="1023.5" y="811" width="1.5" height="70.7" fill="#66aaf6"/>
<rect x="1026.6" y="811" width="1.5" height="74.2" fill="#93b2d4"/>
<rect x="1029.7" y="811" width="1.3" height="78.3" fill="#b2d8f4"/>
<rect x="1032.7" y="811" width="1.3" height="80.4" fill="#c3d3e0"/>
<rect x="1035.7" y="811" width="1.3" height="81.1" fill="#b2d8f4"/>
<rect x="1038.7" y="811" width="1.3" height="81.1" fill="#c3d3e0"/>
<rect x="1041.8" y="811" width="1.3" height="81.1" fill="#b2d8f4"/>
<rect x="1044.8" y="811" width="1.3" height="80.5" fill="#c3d3e0"/>
<rect x="1047.8" y="811" width="1.3" height="78.6" fill="#b2d8f4"/>
<rect x="1050.8" y="811" width="1.3" height="74" fill="#c3d3e0"/>
<rect x="1053.9" y="811" width="1.3" height="67.2" fill="#b2d8f4"/>
<rect x="1056.9" y="811" width="1.3" height="60.2" fill="#c3d3e0"/>
<rect x="1059.9" y="811" width="1.3" height="54.2" fill="#b2d8f4"/>
<rect x="1062.9" y="811" width="1.3" height="48.2" fill="#c3d3e0"/>
<rect x="1065.9" y="811" width="1.3" height="42.1" fill="#b2d8f4"/>
<rect x="1069" y="811" width="1.3" height="36" fill="#c3d3e0"/>
<rect x="1072" y="811" width="1.3" height="28.4" fill="#b2d8f4"/>
<rect x="1075" y="811" width="1.3" height="20.8" fill="#c3d3e0"/>
<rect x="1078" y="811" width="1.3" height="10.6" fill="#b2d8f4"/>
<rect x="1081.1" y="811" width="1.3" height="3.3" fill="#c3d3e0"/>
<rect x="1084.1" y="811" width="1.3" height="0.6" fill="#b2d8f4"/>
<rect x="1087.1" y="809.1" width="1.3" height="1.9" fill="#c3d3e0"/>
<rect x="1090.1" y="806.2" width="1.3" height="4.8" fill="#b2d8f4"/>
<rect x="1093.1" y="804.6" width="1.3" height="6.4" fill="#c3d3e0"/>
<rect x="1096.2" y="807.2" width="1.3" height="3.8" fill="#b2d8f4"/>
<rect x="1099.2" y="808.6" width="1.3" height="2.4" fill="#c3d3e0"/>
<rect x="1102.2" y="809.4" width="1.3" height="1.6" fill="#b2d8f4"/>
<rect x="1105.2" y="810.2" width="1.3" height="0.8" fill="#c3d3e0"/>
<rect x="1108.2" y="810.8" width="1.3" height="0.6" fill="#b2d8f4"/>
<rect x="1111.3" y="811" width="1.3" height="3" fill="#c3d3e0"/>
<rect x="1114.3" y="811" width="1.3" height="11.3" fill="#b2d8f4"/>
<rect x="1117.3" y="811" width="1.3" height="12.9" fill="#c3d3e0"/>
<rect x="1120.3" y="811" width="1.3" height="14.8" fill="#b2d8f4"/>
<rect x="1123.4" y="811" width="1.3" height="20.6" fill="#c3d3e0"/>
<rect x="1126.4" y="811" width="1.3" height="26.5" fill="#b2d8f4"/>
<rect x="1129.4" y="811" width="1.3" height="31.5" fill="#c3d3e0"/>
<rect x="1132.4" y="811" width="1.3" height="33.8" fill="#b2d8f4"/>
<rect x="1135.4" y="811" width="1.3" height="34" fill="#c3d3e0"/>
<rect x="1138.5" y="811" width="1.3" height="35.5" fill="#b2d8f4"/>
<rect x="1141.5" y="811" width="1.3" height="37" fill="#c3d3e0"/>
<rect x="1144.5" y="811" width="1.3" height="37.9" fill="#b2d8f4"/>
<rect x="1147.5" y="811" width="1.3" height="37" fill="#c3d3e0"/>
<rect x="1150.6" y="811" width="1.3" height="36" fill="#b2d8f4"/>
<rect x="1153.6" y="811" width="1.3" height="35.3" fill="#c3d3e0"/>
<rect x="1156.6" y="811" width="1.3" height="34.2" fill="#b2d8f4"/>
<rect x="1159.6" y="811" width="1.3" height="33.2" fill="#c3d3e0"/>
<rect x="1162.6" y="811" width="1.3" height="32.8" fill="#b2d8f4"/>
<rect x="1165.7" y="811" width="1.3" height="30.9" fill="#c3d3e0"/>
<rect x="1168.7" y="811" width="1.3" height="26.4" fill="#b2d8f4"/>
<rect x="1171.7" y="811" width="1.3" height="22.6" fill="#c3d3e0"/>
<rect x="1174.7" y="811" width="1.3" height="18.8" fill="#b2d8f4"/>
<rect x="1177.8" y="811" width="1.3" height="15.7" fill="#c3d3e0"/>
<rect x="1180.8" y="811" width="1.3" height="13.2" fill="#b2d8f4"/>
<rect x="1183.8" y="811" width="1.3" height="11.5" fill="#c3d3e0"/>
<rect x="1186.8" y="811" width="1.3" height="10.4" fill="#b2d8f4"/>
<rect x="1189.8" y="811" width="1.3" height="8.5" fill="#c3d3e0"/>
<rect x="1192.9" y="811" width="1.3" height="5.2" fill="#b2d8f4"/>
<rect x="1195.9" y="811" width="1.3" height="1.9" fill="#c3d3e0"/>
<rect x="1198.9" y="810.8" width="1.3" height="0.6" fill="#b2d8f4"/>
<rect x="1201.9" y="807.2" width="1.3" height="3.8" fill="#c3d3e0"/>
<rect x="1205" y="802" width="1.3" height="9" fill="#b2d8f4"/>
<rect x="1208" y="795.3" width="1.3" height="15.7" fill="#c3d3e0"/>
<rect x="1211" y="788.9" width="1.3" height="22.1" fill="#b2d8f4"/>
<rect x="1214" y="785.9" width="1.3" height="25.1" fill="#c3d3e0"/>
<rect x="1217" y="784.2" width="1.3" height="26.8" fill="#b2d8f4"/>
<rect x="46" y="752" width="1.5" height="144.5" fill="#333"/>
<rect x="47" y="895.6" width="1173" height="1.4" fill="#222"/>
<rect x="41.7" y="810.4" width="5" height="1.3" fill="#333"/>
<text x="41" y="814.5" text-anchor="end" class="ax">0</text>
<rect x="79.3" y="896" width="1.4" height="5" fill="#222"/>
<text x="80" y="910" text-anchor="middle" class="ax" textLength="18.4" lengthAdjust="spacingAndGlyphs">9:10</text>
<rect x="230.3" y="896" width="1.4" height="5" fill="#222"/>
<text x="231" y="910" text-anchor="middle" class="ax" textLength="23.6" lengthAdjust="spacingAndGlyphs">10:00</text>
<rect x="381.8" y="896" width="1.4" height="5" fill="#222"/>
<text x="382.5" y="910" text-anchor="middle" class="ax" textLength="23.6" lengthAdjust="spacingAndGlyphs">10:50</text>
<rect x="532.8" y="896" width="1.4" height="5" fill="#222"/>
<text x="533.5" y="910" text-anchor="middle" class="ax" textLength="23.6" lengthAdjust="spacingAndGlyphs">11:40</text>
<rect x="684.3" y="896" width="1.4" height="5" fill="#222"/>
<text x="685" y="910" text-anchor="middle" class="ax" textLength="23.6" lengthAdjust="spacingAndGlyphs">12:30</text>
<rect x="835.3" y="896" width="1.4" height="5" fill="#222"/>
<text x="836" y="910" text-anchor="middle" class="ax" textLength="23.6" lengthAdjust="spacingAndGlyphs">13:20</text>
<rect x="986.3" y="896" width="1.4" height="5" fill="#222"/>
<text x="987" y="910" text-anchor="middle" class="ax" textLength="23.6" lengthAdjust="spacingAndGlyphs">14:10</text>
<rect x="1137.3" y="896" width="1.4" height="5" fill="#222"/>
<text x="1138" y="910" text-anchor="middle" class="ax" textLength="23.6" lengthAdjust="spacingAndGlyphs">15:00</text>
<line x1="616" y1="825.5" x2="1024" y2="825.5" stroke="#0a0f1a" stroke-width="1.2" stroke-dasharray="7 3"/>
<rect x="611.1" y="753.5" width="1.6" height="142.5" fill="#6a6a6a"/>
<rect x="1027.2" y="753.5" width="1.6" height="142.5" fill="#6a6a6a"/>
<rect x="608.3" y="815" width="7.4" height="20.2" rx="2.5" fill="#fff" stroke="#777" stroke-width="1"/>
<rect x="1024.4" y="815" width="7" height="20.2" rx="2.5" fill="#fff" stroke="#777" stroke-width="1"/>
<path d="M79.5 56.5 h2 l0.8 0.8 l0.8 -0.8 h2 M82.3 57.3 v11.6 M79.5 69.5 h2 l0.8 -0.8 l0.8 0.8 h2" fill="none" stroke="#111" stroke-width="1"/>
<rect x="1253.2" y="783" width="143.8" height="48.7" fill="#fe0000"/>
<rect x="1479" y="783" width="144.2" height="48.7" fill="#008000"/>
<text x="1325.5" y="817.3" class="big" textLength="24.6" lengthAdjust="spacingAndGlyphs" text-anchor="middle">14</text>
<text x="1551.7" y="817.3" class="big" textLength="24.6" lengthAdjust="spacingAndGlyphs" text-anchor="middle">13</text>
<path d="M0 910.3 H398.4 a4 4 0 0 1 4 4 V938 H0 Z" fill="#e5e5e7"/>
<rect x="0" y="910.3" width="395.9" height="27.7" fill="#d9d9d9"/>
<text x="-0.3" y="930.1" class="st" textLength="393.6" lengthAdjust="spacingAndGlyphs">x.com/app-main/#e1e34574-9f75-8f67-d1f6-91acbab0e1f9</text>
</svg>
</body></html>
